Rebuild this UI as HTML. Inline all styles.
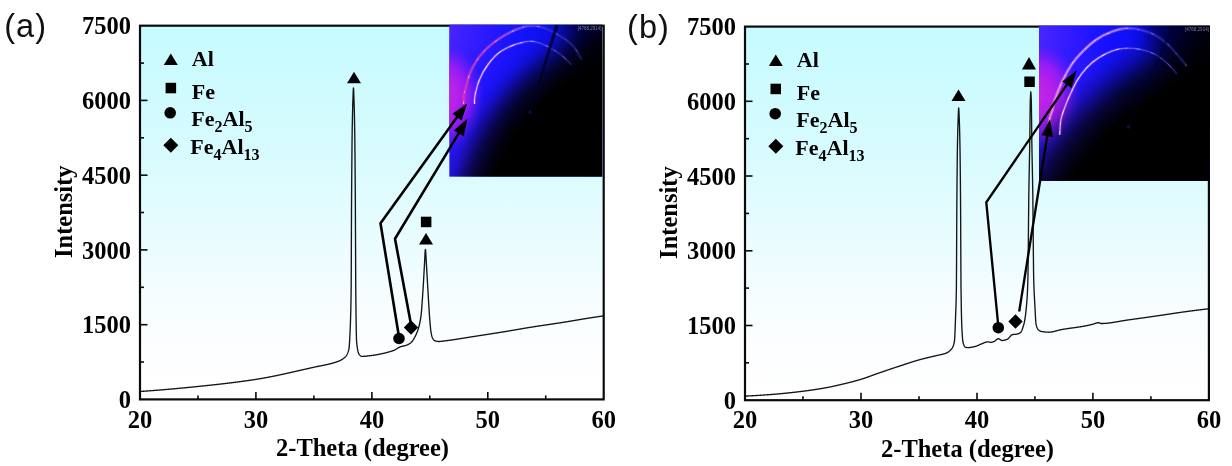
<!DOCTYPE html><html><head><meta charset="utf-8"><title>XRD patterns</title><style>html,body{margin:0;padding:0;background:#fff}svg{display:block}</style></head><body><svg width="1232" height="466" viewBox="0 0 1232 466"><defs><linearGradient id="bg" x1="0" y1="0" x2="0" y2="1"><stop offset="0" stop-color="#c6fbff"/><stop offset="0.35" stop-color="#d8fbfe"/><stop offset="0.72" stop-color="#f5fdff"/><stop offset="0.88" stop-color="#fdfeff"/><stop offset="1" stop-color="#ffffff"/></linearGradient><linearGradient id="arcga" gradientUnits="userSpaceOnUse" x1="449.2" y1="0" x2="602.5" y2="0"><stop offset="0" stop-color="#f03890"/><stop offset="0.3" stop-color="#d848d0"/><stop offset="0.42" stop-color="#b060ff"/><stop offset="0.52" stop-color="#6a5cff" stop-opacity="0.8"/><stop offset="0.66" stop-color="#4a40e0" stop-opacity="0.6"/><stop offset="1" stop-color="#3830b0" stop-opacity="0.4"/></linearGradient><linearGradient id="arcg2a" gradientUnits="userSpaceOnUse" x1="449.2" y1="0" x2="602.5" y2="0"><stop offset="0" stop-color="#ff90e0"/><stop offset="0.3" stop-color="#ffd0f8"/><stop offset="0.44" stop-color="#d0a0ff"/><stop offset="0.54" stop-color="#7468ff" stop-opacity="0.8"/><stop offset="0.68" stop-color="#4a40e0" stop-opacity="0.6"/><stop offset="1" stop-color="#3830b0" stop-opacity="0.4"/></linearGradient><linearGradient id="arcgb" gradientUnits="userSpaceOnUse" x1="1039.0" y1="0" x2="1209.9" y2="0"><stop offset="0" stop-color="#ff9ad8"/><stop offset="0.3" stop-color="#ffb4f0"/><stop offset="0.46" stop-color="#d8a0ff"/><stop offset="0.56" stop-color="#6a5cff" stop-opacity="0.8"/><stop offset="0.7" stop-color="#4a40e0" stop-opacity="0.6"/><stop offset="1" stop-color="#3830b0" stop-opacity="0.4"/></linearGradient><linearGradient id="arcg2b" gradientUnits="userSpaceOnUse" x1="1039.0" y1="0" x2="1209.9" y2="0"><stop offset="0" stop-color="#ff90e0"/><stop offset="0.3" stop-color="#ffd0f8"/><stop offset="0.44" stop-color="#d0a0ff"/><stop offset="0.54" stop-color="#7468ff" stop-opacity="0.8"/><stop offset="0.68" stop-color="#4a40e0" stop-opacity="0.6"/><stop offset="1" stop-color="#3830b0" stop-opacity="0.4"/></linearGradient></defs>
<rect x="140.0" y="25.7" width="463.7" height="373.7" fill="url(#bg)"/>
<path d="M140.00,391.50 L140.25,391.48 L140.50,391.47 L140.75,391.45 L141.00,391.43 L141.25,391.41 L141.50,391.40 L141.75,391.38 L142.00,391.36 L142.25,391.34 L142.50,391.33 L142.75,391.31 L143.00,391.29 L143.25,391.27 L143.50,391.25 L143.75,391.24 L144.00,391.22 L144.25,391.20 L144.50,391.18 L144.75,391.17 L145.00,391.15 L145.25,391.13 L145.50,391.11 L145.75,391.09 L146.00,391.07 L146.25,391.06 L146.50,391.04 L146.75,391.02 L147.00,391.00 L147.25,390.98 L147.50,390.96 L147.75,390.95 L148.00,390.93 L148.25,390.91 L148.50,390.89 L148.75,390.87 L149.00,390.85 L149.25,390.83 L149.50,390.81 L149.75,390.80 L150.00,390.78 L150.25,390.76 L150.50,390.74 L150.75,390.72 L151.00,390.70 L151.25,390.68 L151.50,390.66 L151.75,390.64 L152.00,390.62 L152.25,390.60 L152.50,390.59 L152.75,390.57 L153.00,390.55 L153.25,390.53 L153.50,390.51 L153.75,390.49 L154.00,390.47 L154.25,390.45 L154.50,390.43 L154.75,390.41 L155.00,390.39 L155.25,390.37 L155.50,390.35 L155.75,390.33 L156.00,390.31 L156.25,390.29 L156.50,390.27 L156.75,390.25 L157.00,390.23 L157.25,390.21 L157.50,390.19 L157.75,390.17 L158.00,390.15 L158.25,390.13 L158.50,390.11 L158.75,390.09 L159.00,390.07 L159.25,390.05 L159.50,390.03 L159.75,390.01 L160.00,389.99 L160.25,389.97 L160.50,389.95 L160.75,389.92 L161.00,389.90 L161.25,389.88 L161.50,389.86 L161.75,389.84 L162.00,389.82 L162.25,389.80 L162.50,389.78 L162.75,389.76 L163.00,389.74 L163.25,389.72 L163.50,389.69 L163.75,389.67 L164.00,389.65 L164.25,389.63 L164.50,389.61 L164.75,389.59 L165.00,389.57 L165.25,389.55 L165.50,389.53 L165.75,389.50 L166.00,389.48 L166.25,389.46 L166.50,389.44 L166.75,389.42 L167.00,389.40 L167.25,389.37 L167.50,389.35 L167.75,389.33 L168.00,389.31 L168.25,389.29 L168.50,389.27 L168.75,389.24 L169.00,389.22 L169.25,389.20 L169.50,389.18 L169.75,389.16 L170.00,389.13 L170.25,389.11 L170.50,389.09 L170.75,389.07 L171.00,389.05 L171.25,389.02 L171.50,389.00 L171.75,388.98 L172.00,388.96 L172.25,388.93 L172.50,388.91 L172.75,388.89 L173.00,388.87 L173.25,388.85 L173.50,388.82 L173.75,388.80 L174.00,388.78 L174.25,388.76 L174.50,388.73 L174.75,388.71 L175.00,388.69 L175.25,388.66 L175.50,388.64 L175.75,388.62 L176.00,388.60 L176.25,388.57 L176.50,388.55 L176.75,388.53 L177.00,388.50 L177.25,388.48 L177.50,388.46 L177.75,388.44 L178.00,388.41 L178.25,388.39 L178.50,388.37 L178.75,388.34 L179.00,388.32 L179.25,388.30 L179.50,388.27 L179.75,388.25 L180.00,388.23 L180.25,388.20 L180.50,388.18 L180.75,388.16 L181.00,388.13 L181.25,388.11 L181.50,388.09 L181.75,388.06 L182.00,388.04 L182.25,388.02 L182.50,387.99 L182.75,387.97 L183.00,387.94 L183.25,387.92 L183.50,387.90 L183.75,387.87 L184.00,387.85 L184.25,387.83 L184.50,387.80 L184.75,387.78 L185.00,387.75 L185.25,387.73 L185.50,387.71 L185.75,387.68 L186.00,387.66 L186.25,387.63 L186.50,387.61 L186.75,387.59 L187.00,387.56 L187.25,387.54 L187.50,387.51 L187.75,387.49 L188.00,387.46 L188.25,387.44 L188.50,387.42 L188.75,387.39 L189.00,387.37 L189.25,387.34 L189.50,387.32 L189.75,387.29 L190.00,387.27 L190.25,387.24 L190.50,387.22 L190.75,387.19 L191.00,387.17 L191.25,387.15 L191.50,387.12 L191.75,387.10 L192.00,387.07 L192.25,387.05 L192.50,387.02 L192.75,387.00 L193.00,386.97 L193.25,386.95 L193.50,386.92 L193.75,386.90 L194.00,386.87 L194.25,386.85 L194.50,386.82 L194.75,386.80 L195.00,386.77 L195.25,386.75 L195.50,386.72 L195.75,386.70 L196.00,386.67 L196.25,386.65 L196.50,386.62 L196.75,386.60 L197.00,386.57 L197.25,386.55 L197.50,386.52 L197.70,386.50 L197.75,386.49 L198.00,386.47 L198.25,386.44 L198.50,386.42 L198.75,386.39 L199.00,386.37 L199.25,386.34 L199.50,386.32 L199.75,386.29 L200.00,386.27 L200.25,386.24 L200.50,386.21 L200.75,386.19 L201.00,386.16 L201.25,386.14 L201.50,386.11 L201.75,386.09 L202.00,386.06 L202.25,386.03 L202.50,386.01 L202.75,385.98 L203.00,385.96 L203.25,385.93 L203.50,385.91 L203.75,385.88 L204.00,385.85 L204.25,385.83 L204.50,385.80 L204.75,385.78 L205.00,385.75 L205.25,385.72 L205.50,385.70 L205.75,385.67 L206.00,385.64 L206.25,385.62 L206.50,385.59 L206.75,385.57 L207.00,385.54 L207.25,385.51 L207.50,385.49 L207.75,385.46 L208.00,385.43 L208.25,385.41 L208.50,385.38 L208.75,385.35 L209.00,385.33 L209.25,385.30 L209.50,385.27 L209.75,385.25 L210.00,385.22 L210.25,385.19 L210.50,385.17 L210.75,385.14 L211.00,385.11 L211.25,385.09 L211.50,385.06 L211.75,385.03 L212.00,385.00 L212.25,384.98 L212.50,384.95 L212.75,384.92 L213.00,384.90 L213.25,384.87 L213.50,384.84 L213.75,384.81 L214.00,384.79 L214.25,384.76 L214.50,384.73 L214.75,384.70 L215.00,384.68 L215.25,384.65 L215.50,384.62 L215.75,384.59 L216.00,384.57 L216.25,384.54 L216.50,384.51 L216.75,384.48 L217.00,384.45 L217.25,384.43 L217.50,384.40 L217.75,384.37 L218.00,384.34 L218.25,384.31 L218.50,384.29 L218.75,384.26 L219.00,384.23 L219.25,384.20 L219.50,384.17 L219.75,384.14 L220.00,384.12 L220.25,384.09 L220.50,384.06 L220.75,384.03 L221.00,384.00 L221.25,383.97 L221.50,383.94 L221.75,383.92 L222.00,383.89 L222.25,383.86 L222.50,383.83 L222.75,383.80 L223.00,383.77 L223.25,383.74 L223.50,383.71 L223.75,383.68 L224.00,383.65 L224.25,383.62 L224.50,383.59 L224.75,383.57 L225.00,383.54 L225.25,383.51 L225.50,383.48 L225.75,383.45 L226.00,383.42 L226.25,383.39 L226.50,383.36 L226.75,383.33 L227.00,383.30 L227.25,383.27 L227.50,383.24 L227.75,383.21 L228.00,383.18 L228.25,383.15 L228.50,383.12 L228.75,383.09 L229.00,383.06 L229.25,383.03 L229.50,383.00 L229.75,382.96 L230.00,382.93 L230.25,382.90 L230.50,382.87 L230.75,382.84 L231.00,382.81 L231.25,382.78 L231.50,382.75 L231.75,382.72 L232.00,382.69 L232.25,382.66 L232.50,382.62 L232.75,382.59 L233.00,382.56 L233.25,382.53 L233.50,382.50 L233.75,382.47 L234.00,382.43 L234.25,382.40 L234.50,382.37 L234.75,382.34 L235.00,382.31 L235.25,382.28 L235.50,382.24 L235.75,382.21 L236.00,382.18 L236.25,382.15 L236.50,382.11 L236.75,382.08 L237.00,382.05 L237.25,382.02 L237.50,381.98 L237.75,381.95 L238.00,381.92 L238.25,381.89 L238.50,381.85 L238.75,381.82 L239.00,381.79 L239.25,381.75 L239.50,381.72 L239.75,381.69 L240.00,381.65 L240.25,381.62 L240.50,381.59 L240.75,381.55 L241.00,381.52 L241.25,381.49 L241.50,381.45 L241.75,381.42 L242.00,381.38 L242.25,381.35 L242.50,381.32 L242.75,381.28 L243.00,381.25 L243.25,381.21 L243.50,381.18 L243.75,381.14 L244.00,381.11 L244.25,381.08 L244.50,381.04 L244.75,381.01 L245.00,380.97 L245.25,380.94 L245.50,380.90 L245.75,380.87 L246.00,380.83 L246.25,380.80 L246.50,380.76 L246.75,380.72 L247.00,380.69 L247.25,380.65 L247.50,380.62 L247.75,380.58 L248.00,380.55 L248.25,380.51 L248.50,380.47 L248.75,380.44 L249.00,380.40 L249.25,380.37 L249.50,380.33 L249.75,380.29 L250.00,380.26 L250.25,380.22 L250.50,380.18 L250.75,380.15 L251.00,380.11 L251.25,380.07 L251.50,380.04 L251.75,380.00 L252.00,379.96 L252.25,379.92 L252.50,379.89 L252.75,379.85 L253.00,379.81 L253.25,379.77 L253.50,379.74 L253.75,379.70 L254.00,379.66 L254.25,379.62 L254.50,379.58 L254.75,379.55 L255.00,379.51 L255.25,379.47 L255.50,379.43 L255.70,379.40 L255.75,379.39 L256.00,379.35 L256.25,379.31 L256.50,379.28 L256.75,379.24 L257.00,379.20 L257.25,379.16 L257.50,379.12 L257.75,379.08 L258.00,379.04 L258.25,379.00 L258.50,378.95 L258.75,378.91 L259.00,378.87 L259.25,378.83 L259.50,378.79 L259.75,378.75 L260.00,378.71 L260.25,378.66 L260.50,378.62 L260.75,378.58 L261.00,378.54 L261.25,378.49 L261.50,378.45 L261.75,378.41 L262.00,378.36 L262.25,378.32 L262.50,378.28 L262.75,378.23 L263.00,378.19 L263.25,378.14 L263.50,378.10 L263.75,378.06 L264.00,378.01 L264.25,377.97 L264.50,377.92 L264.75,377.88 L265.00,377.83 L265.25,377.78 L265.50,377.74 L265.75,377.69 L266.00,377.65 L266.25,377.60 L266.50,377.55 L266.75,377.51 L267.00,377.46 L267.25,377.41 L267.50,377.37 L267.75,377.32 L268.00,377.27 L268.25,377.22 L268.50,377.18 L268.75,377.13 L269.00,377.08 L269.25,377.03 L269.50,376.98 L269.75,376.94 L270.00,376.89 L270.25,376.84 L270.50,376.79 L270.75,376.74 L271.00,376.69 L271.25,376.64 L271.50,376.59 L271.75,376.54 L272.00,376.49 L272.25,376.44 L272.50,376.40 L272.75,376.35 L273.00,376.29 L273.25,376.24 L273.50,376.19 L273.75,376.14 L274.00,376.09 L274.25,376.04 L274.50,375.99 L274.75,375.94 L275.00,375.89 L275.25,375.84 L275.50,375.79 L275.75,375.74 L276.00,375.68 L276.25,375.63 L276.50,375.58 L276.75,375.53 L277.00,375.48 L277.25,375.42 L277.50,375.37 L277.75,375.32 L278.00,375.27 L278.25,375.21 L278.50,375.16 L278.75,375.11 L279.00,375.06 L279.25,375.00 L279.50,374.95 L279.75,374.90 L280.00,374.84 L280.25,374.79 L280.50,374.74 L280.75,374.68 L281.00,374.63 L281.25,374.58 L281.50,374.52 L281.75,374.47 L282.00,374.41 L282.25,374.36 L282.50,374.31 L282.75,374.25 L283.00,374.20 L283.25,374.14 L283.50,374.09 L283.75,374.03 L284.00,373.98 L284.25,373.92 L284.50,373.87 L284.75,373.81 L285.00,373.76 L285.25,373.70 L285.50,373.65 L285.75,373.59 L286.00,373.54 L286.25,373.48 L286.50,373.43 L286.75,373.37 L287.00,373.32 L287.25,373.26 L287.50,373.21 L287.75,373.15 L288.00,373.10 L288.25,373.04 L288.50,372.98 L288.75,372.93 L289.00,372.87 L289.25,372.82 L289.50,372.76 L289.75,372.70 L290.00,372.65 L290.25,372.59 L290.50,372.54 L290.75,372.48 L291.00,372.42 L291.25,372.37 L291.50,372.31 L291.75,372.25 L292.00,372.20 L292.25,372.14 L292.50,372.08 L292.75,372.03 L293.00,371.97 L293.25,371.91 L293.50,371.86 L293.75,371.80 L294.00,371.74 L294.25,371.69 L294.50,371.63 L294.75,371.57 L295.00,371.52 L295.25,371.46 L295.50,371.40 L295.75,371.35 L296.00,371.29 L296.25,371.23 L296.50,371.18 L296.75,371.12 L297.00,371.06 L297.25,371.00 L297.50,370.95 L297.75,370.89 L298.00,370.83 L298.25,370.78 L298.50,370.72 L298.75,370.66 L299.00,370.60 L299.25,370.55 L299.50,370.49 L299.75,370.43 L300.00,370.38 L300.25,370.32 L300.50,370.26 L300.75,370.21 L301.00,370.15 L301.25,370.09 L301.50,370.03 L301.75,369.98 L302.00,369.92 L302.25,369.86 L302.50,369.81 L302.75,369.75 L303.00,369.69 L303.25,369.63 L303.50,369.58 L303.75,369.52 L304.00,369.46 L304.25,369.41 L304.50,369.35 L304.75,369.29 L305.00,369.24 L305.25,369.18 L305.50,369.12 L305.75,369.07 L306.00,369.01 L306.25,368.95 L306.50,368.89 L306.75,368.84 L307.00,368.78 L307.25,368.72 L307.50,368.67 L307.75,368.61 L308.00,368.55 L308.25,368.50 L308.50,368.44 L308.75,368.39 L309.00,368.33 L309.25,368.27 L309.50,368.22 L309.75,368.16 L310.00,368.10 L310.25,368.05 L310.50,367.99 L310.75,367.94 L311.00,367.88 L311.25,367.82 L311.50,367.77 L311.75,367.71 L312.00,367.66 L312.25,367.60 L312.50,367.54 L312.75,367.49 L313.00,367.43 L313.25,367.38 L313.50,367.32 L313.60,367.30 L313.75,367.27 L314.00,367.21 L314.25,367.16 L314.50,367.10 L314.75,367.05 L315.00,367.00 L315.25,366.94 L315.50,366.89 L315.75,366.84 L316.00,366.79 L316.25,366.74 L316.50,366.68 L316.75,366.63 L317.00,366.58 L317.25,366.53 L317.50,366.48 L317.75,366.43 L318.00,366.38 L318.25,366.33 L318.50,366.28 L318.75,366.23 L319.00,366.18 L319.25,366.13 L319.50,366.08 L319.75,366.03 L320.00,365.99 L320.25,365.94 L320.50,365.89 L320.75,365.84 L321.00,365.79 L321.25,365.74 L321.50,365.69 L321.75,365.64 L322.00,365.59 L322.25,365.54 L322.50,365.49 L322.75,365.44 L323.00,365.39 L323.25,365.34 L323.50,365.29 L323.75,365.24 L324.00,365.19 L324.25,365.14 L324.50,365.09 L324.75,365.03 L325.00,364.98 L325.25,364.93 L325.50,364.88 L325.75,364.82 L326.00,364.77 L326.25,364.71 L326.50,364.66 L326.75,364.60 L327.00,364.55 L327.25,364.49 L327.50,364.44 L327.75,364.38 L328.00,364.32 L328.25,364.26 L328.50,364.21 L328.75,364.15 L329.00,364.09 L329.25,364.03 L329.50,363.97 L329.75,363.90 L330.00,363.84 L330.25,363.78 L330.50,363.72 L330.75,363.65 L331.00,363.59 L331.25,363.52 L331.50,363.45 L331.75,363.39 L332.00,363.32 L332.25,363.25 L332.50,363.18 L332.75,363.11 L333.00,363.04 L333.25,362.96 L333.50,362.89 L333.75,362.82 L334.00,362.74 L334.25,362.66 L334.50,362.59 L334.75,362.51 L335.00,362.43 L335.25,362.35 L335.50,362.27 L335.75,362.18 L336.00,362.10 L336.25,362.02 L336.50,361.93 L336.75,361.85 L337.00,361.76 L337.25,361.67 L337.50,361.58 L337.75,361.49 L338.00,361.40 L338.25,361.30 L338.50,361.21 L338.75,361.11 L339.00,361.01 L339.25,360.90 L339.50,360.79 L339.75,360.68 L340.00,360.57 L340.25,360.45 L340.50,360.32 L340.75,360.19 L341.00,360.06 L341.25,359.93 L341.50,359.78 L341.75,359.64 L342.00,359.48 L342.25,359.32 L342.50,359.16 L342.75,358.99 L343.00,358.81 L343.25,358.63 L343.50,358.44 L343.75,358.24 L343.80,358.20 L344.00,358.04 L344.25,357.84 L344.50,357.63 L344.75,357.41 L345.00,357.19 L345.25,356.94 L345.50,356.68 L345.75,356.39 L346.00,356.08 L346.25,355.74 L346.50,355.36 L346.75,354.94 L347.00,354.48 L347.25,353.97 L347.50,353.42 L347.75,352.81 L348.00,352.14 L348.25,351.41 L348.50,350.62 L348.75,349.75 L348.90,349.20 L349.00,348.70 L349.25,346.43 L349.50,342.92 L349.75,338.41 L350.00,333.16 L350.20,328.60 L350.25,327.43 L350.50,321.08 L350.75,312.55 L351.00,299.99 L351.15,289.75 L351.25,274.41 L351.50,210.12 L351.55,200.98 L351.75,173.26 L352.00,145.75 L352.20,130.23 L352.25,127.22 L352.50,114.41 L352.75,104.76 L352.90,100.11 L353.00,97.13 L353.25,90.31 L353.45,88.00 L353.50,88.16 L353.75,92.74 L354.00,100.11 L354.25,108.30 L354.50,119.11 L354.70,130.23 L354.75,133.53 L355.00,155.73 L355.25,186.53 L355.35,200.98 L355.50,234.26 L355.75,289.75 L356.00,312.77 L356.25,329.80 L356.50,339.75 L356.60,341.50 L356.75,343.04 L357.00,345.32 L357.25,347.27 L357.50,348.92 L357.75,350.29 L358.00,351.42 L358.25,352.34 L358.50,353.08 L358.75,353.65 L359.00,354.11 L359.20,354.40 L359.25,354.47 L359.50,354.79 L359.75,355.09 L360.00,355.36 L360.25,355.61 L360.50,355.83 L360.75,356.02 L361.00,356.18 L361.25,356.29 L361.50,356.37 L361.75,356.40 L361.80,356.40 L362.00,356.40 L362.25,356.40 L362.50,356.39 L362.75,356.39 L363.00,356.38 L363.25,356.37 L363.50,356.35 L363.75,356.34 L364.00,356.33 L364.25,356.31 L364.50,356.29 L364.75,356.27 L365.00,356.25 L365.25,356.23 L365.50,356.21 L365.75,356.18 L366.00,356.16 L366.25,356.13 L366.50,356.11 L366.75,356.08 L367.00,356.05 L367.25,356.02 L367.50,355.99 L367.75,355.97 L368.00,355.94 L368.25,355.91 L368.50,355.88 L368.75,355.85 L369.00,355.82 L369.25,355.79 L369.50,355.76 L369.75,355.73 L370.00,355.70 L370.25,355.67 L370.50,355.64 L370.75,355.61 L371.00,355.58 L371.25,355.55 L371.50,355.52 L371.75,355.49 L372.00,355.45 L372.25,355.42 L372.50,355.39 L372.75,355.35 L373.00,355.32 L373.25,355.28 L373.50,355.25 L373.75,355.21 L374.00,355.17 L374.25,355.13 L374.50,355.10 L374.75,355.06 L375.00,355.02 L375.25,354.98 L375.50,354.94 L375.75,354.90 L376.00,354.86 L376.25,354.81 L376.50,354.77 L376.75,354.73 L377.00,354.68 L377.25,354.64 L377.50,354.59 L377.75,354.55 L378.00,354.50 L378.25,354.46 L378.50,354.41 L378.75,354.36 L379.00,354.31 L379.25,354.26 L379.50,354.22 L379.75,354.17 L380.00,354.11 L380.25,354.06 L380.50,354.01 L380.75,353.96 L381.00,353.91 L381.25,353.85 L381.50,353.80 L381.75,353.74 L382.00,353.69 L382.25,353.63 L382.50,353.58 L382.75,353.52 L383.00,353.46 L383.25,353.41 L383.50,353.35 L383.75,353.29 L384.00,353.23 L384.25,353.17 L384.50,353.11 L384.75,353.04 L385.00,352.98 L385.25,352.92 L385.50,352.86 L385.75,352.79 L386.00,352.73 L386.25,352.66 L386.50,352.60 L386.75,352.53 L387.00,352.46 L387.25,352.39 L387.50,352.33 L387.75,352.26 L388.00,352.19 L388.25,352.12 L388.50,352.05 L388.75,351.97 L389.00,351.90 L389.25,351.83 L389.50,351.76 L389.75,351.68 L390.00,351.61 L390.25,351.53 L390.50,351.46 L390.75,351.38 L391.00,351.30 L391.25,351.23 L391.50,351.15 L391.75,351.07 L392.00,350.99 L392.25,350.91 L392.50,350.83 L392.75,350.75 L393.00,350.67 L393.20,350.60 L393.25,350.58 L393.50,350.49 L393.75,350.40 L394.00,350.29 L394.25,350.18 L394.50,350.05 L394.75,349.93 L395.00,349.79 L395.25,349.66 L395.50,349.51 L395.75,349.37 L396.00,349.22 L396.25,349.07 L396.50,348.92 L396.75,348.76 L397.00,348.61 L397.25,348.45 L397.50,348.30 L397.75,348.14 L398.00,347.99 L398.25,347.85 L398.50,347.70 L398.75,347.56 L399.00,347.42 L399.25,347.29 L399.50,347.17 L399.75,347.05 L400.00,346.93 L400.25,346.83 L400.50,346.73 L400.75,346.65 L400.90,346.60 L401.00,346.57 L401.25,346.50 L401.50,346.43 L401.75,346.37 L402.00,346.32 L402.25,346.27 L402.50,346.22 L402.75,346.17 L403.00,346.12 L403.25,346.07 L403.50,346.03 L403.75,345.98 L404.00,345.93 L404.25,345.87 L404.50,345.82 L404.75,345.75 L405.00,345.69 L405.25,345.62 L405.30,345.60 L405.50,345.54 L405.75,345.46 L406.00,345.37 L406.25,345.28 L406.50,345.19 L406.75,345.09 L407.00,344.99 L407.25,344.88 L407.50,344.77 L407.75,344.66 L408.00,344.54 L408.25,344.41 L408.50,344.28 L408.75,344.14 L409.00,344.00 L409.25,343.85 L409.50,343.69 L409.75,343.53 L410.00,343.36 L410.25,343.18 L410.50,343.00 L410.75,342.80 L411.00,342.59 L411.25,342.35 L411.50,342.10 L411.75,341.83 L412.00,341.55 L412.25,341.24 L412.50,340.92 L412.75,340.58 L413.00,340.23 L413.25,339.85 L413.50,339.47 L413.75,339.06 L414.00,338.64 L414.25,338.21 L414.50,337.76 L414.75,337.29 L415.00,336.81 L415.25,336.32 L415.50,335.81 L415.75,335.28 L416.00,334.75 L416.25,334.19 L416.50,333.63 L416.75,333.05 L416.90,332.70 L417.00,332.46 L417.25,331.84 L417.50,331.19 L417.75,330.51 L418.00,329.78 L418.25,329.00 L418.50,328.17 L418.75,327.29 L419.00,326.34 L419.25,325.33 L419.50,324.25 L419.75,323.09 L420.00,321.85 L420.25,320.53 L420.50,319.12 L420.75,317.61 L420.80,317.30 L421.00,315.86 L421.25,313.60 L421.50,310.90 L421.75,307.84 L422.00,304.51 L422.25,300.99 L422.50,297.35 L422.75,293.68 L422.90,291.50 L423.00,290.02 L423.25,286.03 L423.50,281.74 L423.75,277.27 L424.00,272.77 L424.25,268.35 L424.40,265.80 L424.50,263.99 L424.75,258.74 L425.00,253.64 L425.25,250.17 L425.40,249.50 L425.50,249.75 L425.75,252.20 L426.00,256.40 L426.25,261.29 L426.50,265.80 L426.75,269.88 L427.00,274.13 L427.25,278.50 L427.50,282.90 L427.75,287.26 L428.00,291.50 L428.25,295.74 L428.50,300.07 L428.75,304.37 L429.00,308.54 L429.25,312.46 L429.50,316.01 L429.60,317.30 L429.75,319.18 L430.00,322.27 L430.25,325.22 L430.50,327.91 L430.75,330.25 L431.00,332.11 L431.10,332.70 L431.25,333.49 L431.50,334.68 L431.75,335.74 L432.00,336.64 L432.25,337.40 L432.50,338.00 L432.60,338.20 L432.75,338.47 L433.00,338.90 L433.25,339.29 L433.50,339.64 L433.75,339.94 L434.00,340.20 L434.25,340.40 L434.50,340.56 L434.60,340.60 L434.75,340.66 L435.00,340.75 L435.25,340.84 L435.50,340.93 L435.75,341.01 L436.00,341.08 L436.25,341.15 L436.50,341.21 L436.75,341.27 L437.00,341.32 L437.25,341.37 L437.50,341.40 L437.75,341.44 L438.00,341.46 L438.25,341.48 L438.50,341.49 L438.75,341.50 L438.80,341.50 L439.00,341.50 L439.25,341.49 L439.50,341.48 L439.75,341.47 L440.00,341.46 L440.25,341.44 L440.50,341.42 L440.75,341.39 L441.00,341.37 L441.25,341.34 L441.50,341.31 L441.75,341.28 L442.00,341.25 L442.25,341.21 L442.50,341.18 L442.75,341.15 L443.00,341.11 L443.25,341.08 L443.50,341.04 L443.75,341.01 L444.00,340.97 L444.25,340.94 L444.50,340.91 L444.60,340.90 L444.75,340.88 L445.00,340.85 L445.25,340.82 L445.50,340.79 L445.75,340.76 L446.00,340.73 L446.25,340.70 L446.50,340.67 L446.75,340.64 L447.00,340.61 L447.25,340.57 L447.50,340.54 L447.75,340.51 L448.00,340.48 L448.25,340.44 L448.50,340.41 L448.75,340.38 L449.00,340.34 L449.25,340.31 L449.50,340.28 L449.75,340.24 L450.00,340.21 L450.25,340.17 L450.50,340.14 L450.75,340.10 L451.00,340.07 L451.25,340.03 L451.50,340.00 L451.75,339.96 L452.00,339.92 L452.25,339.89 L452.50,339.85 L452.75,339.82 L453.00,339.78 L453.25,339.74 L453.50,339.71 L453.75,339.67 L454.00,339.63 L454.25,339.59 L454.50,339.56 L454.75,339.52 L455.00,339.48 L455.25,339.44 L455.50,339.41 L455.75,339.37 L456.00,339.33 L456.25,339.29 L456.50,339.25 L456.75,339.21 L457.00,339.18 L457.25,339.14 L457.50,339.10 L457.75,339.06 L458.00,339.02 L458.25,338.98 L458.50,338.94 L458.75,338.90 L459.00,338.86 L459.25,338.82 L459.50,338.78 L459.75,338.74 L460.00,338.70 L460.25,338.66 L460.50,338.62 L460.75,338.58 L461.00,338.54 L461.25,338.50 L461.50,338.46 L461.75,338.42 L462.00,338.38 L462.25,338.34 L462.50,338.30 L462.75,338.26 L463.00,338.22 L463.25,338.18 L463.50,338.14 L463.75,338.10 L464.00,338.06 L464.25,338.02 L464.50,337.98 L464.75,337.94 L465.00,337.90 L465.25,337.86 L465.50,337.82 L465.75,337.78 L466.00,337.74 L466.25,337.70 L466.50,337.66 L466.75,337.62 L467.00,337.58 L467.25,337.54 L467.50,337.50 L467.75,337.46 L468.00,337.42 L468.25,337.38 L468.50,337.34 L468.75,337.30 L469.00,337.26 L469.25,337.22 L469.50,337.18 L469.75,337.14 L470.00,337.10 L470.25,337.06 L470.50,337.02 L470.75,336.98 L471.00,336.94 L471.25,336.90 L471.50,336.86 L471.75,336.82 L472.00,336.78 L472.25,336.74 L472.50,336.70 L472.75,336.66 L473.00,336.62 L473.25,336.58 L473.50,336.55 L473.75,336.51 L473.80,336.50 L474.00,336.47 L474.25,336.43 L474.50,336.39 L474.75,336.35 L475.00,336.32 L475.25,336.28 L475.50,336.24 L475.75,336.20 L476.00,336.16 L476.25,336.12 L476.50,336.08 L476.75,336.05 L477.00,336.01 L477.25,335.97 L477.50,335.93 L477.75,335.89 L478.00,335.85 L478.25,335.81 L478.50,335.78 L478.75,335.74 L479.00,335.70 L479.25,335.66 L479.50,335.62 L479.75,335.58 L480.00,335.54 L480.25,335.51 L480.50,335.47 L480.75,335.43 L481.00,335.39 L481.25,335.35 L481.50,335.31 L481.75,335.27 L482.00,335.23 L482.25,335.20 L482.50,335.16 L482.75,335.12 L483.00,335.08 L483.25,335.04 L483.50,335.00 L483.75,334.96 L484.00,334.92 L484.25,334.89 L484.50,334.85 L484.75,334.81 L485.00,334.77 L485.25,334.73 L485.50,334.69 L485.75,334.65 L486.00,334.61 L486.25,334.57 L486.50,334.54 L486.75,334.50 L487.00,334.46 L487.25,334.42 L487.50,334.38 L487.75,334.34 L488.00,334.30 L488.25,334.26 L488.50,334.22 L488.75,334.18 L489.00,334.14 L489.25,334.11 L489.50,334.07 L489.75,334.03 L490.00,333.99 L490.25,333.95 L490.50,333.91 L490.75,333.87 L491.00,333.83 L491.25,333.79 L491.50,333.75 L491.75,333.71 L492.00,333.67 L492.25,333.63 L492.50,333.59 L492.75,333.56 L493.00,333.52 L493.25,333.48 L493.50,333.44 L493.75,333.40 L494.00,333.36 L494.25,333.32 L494.50,333.28 L494.75,333.24 L495.00,333.20 L495.25,333.16 L495.50,333.12 L495.75,333.08 L496.00,333.04 L496.25,333.00 L496.50,332.96 L496.75,332.92 L497.00,332.88 L497.25,332.84 L497.50,332.80 L497.75,332.76 L498.00,332.72 L498.25,332.68 L498.50,332.64 L498.75,332.60 L499.00,332.56 L499.25,332.52 L499.50,332.48 L499.75,332.44 L500.00,332.40 L500.25,332.36 L500.50,332.32 L500.75,332.28 L501.00,332.24 L501.25,332.20 L501.50,332.16 L501.75,332.12 L502.00,332.08 L502.25,332.04 L502.50,332.00 L502.75,331.96 L503.00,331.92 L503.10,331.90 L503.25,331.88 L503.50,331.84 L503.75,331.79 L504.00,331.75 L504.25,331.71 L504.50,331.67 L504.75,331.63 L505.00,331.59 L505.25,331.55 L505.50,331.51 L505.75,331.47 L506.00,331.42 L506.25,331.38 L506.50,331.34 L506.75,331.30 L507.00,331.26 L507.25,331.22 L507.50,331.17 L507.75,331.13 L508.00,331.09 L508.25,331.05 L508.50,331.01 L508.75,330.96 L509.00,330.92 L509.25,330.88 L509.50,330.84 L509.75,330.80 L510.00,330.75 L510.25,330.71 L510.50,330.67 L510.75,330.63 L511.00,330.58 L511.25,330.54 L511.50,330.50 L511.75,330.46 L512.00,330.41 L512.25,330.37 L512.50,330.33 L512.75,330.29 L513.00,330.24 L513.25,330.20 L513.50,330.16 L513.75,330.11 L514.00,330.07 L514.25,330.03 L514.50,329.99 L514.75,329.94 L515.00,329.90 L515.25,329.86 L515.50,329.81 L515.75,329.77 L516.00,329.73 L516.25,329.69 L516.50,329.64 L516.75,329.60 L517.00,329.56 L517.25,329.51 L517.50,329.47 L517.75,329.43 L518.00,329.39 L518.25,329.34 L518.50,329.30 L518.75,329.26 L519.00,329.21 L519.25,329.17 L519.50,329.13 L519.75,329.09 L520.00,329.04 L520.25,329.00 L520.50,328.96 L520.75,328.92 L521.00,328.87 L521.25,328.83 L521.50,328.79 L521.75,328.75 L522.00,328.70 L522.25,328.66 L522.50,328.62 L522.75,328.58 L523.00,328.53 L523.25,328.49 L523.50,328.45 L523.75,328.41 L524.00,328.36 L524.25,328.32 L524.50,328.28 L524.75,328.24 L525.00,328.20 L525.25,328.15 L525.50,328.11 L525.75,328.07 L526.00,328.03 L526.25,327.99 L526.50,327.94 L526.75,327.90 L527.00,327.86 L527.25,327.82 L527.50,327.78 L527.75,327.74 L528.00,327.70 L528.25,327.66 L528.50,327.61 L528.75,327.57 L529.00,327.53 L529.25,327.49 L529.50,327.45 L529.75,327.41 L530.00,327.37 L530.25,327.33 L530.50,327.29 L530.75,327.25 L531.00,327.21 L531.25,327.17 L531.50,327.13 L531.75,327.09 L532.00,327.05 L532.25,327.01 L532.30,327.00 L532.50,326.97 L532.75,326.93 L533.00,326.89 L533.25,326.85 L533.50,326.81 L533.75,326.77 L534.00,326.73 L534.25,326.69 L534.50,326.65 L534.75,326.62 L535.00,326.58 L535.25,326.54 L535.50,326.50 L535.75,326.46 L536.00,326.42 L536.25,326.38 L536.50,326.35 L536.75,326.31 L537.00,326.27 L537.25,326.23 L537.50,326.19 L537.75,326.15 L538.00,326.12 L538.25,326.08 L538.50,326.04 L538.75,326.00 L539.00,325.97 L539.25,325.93 L539.50,325.89 L539.75,325.85 L540.00,325.82 L540.25,325.78 L540.50,325.74 L540.75,325.70 L541.00,325.67 L541.25,325.63 L541.50,325.59 L541.75,325.55 L542.00,325.52 L542.25,325.48 L542.50,325.44 L542.75,325.41 L543.00,325.37 L543.25,325.33 L543.50,325.30 L543.75,325.26 L544.00,325.22 L544.25,325.18 L544.50,325.15 L544.75,325.11 L545.00,325.07 L545.25,325.04 L545.50,325.00 L545.75,324.96 L546.00,324.93 L546.25,324.89 L546.50,324.85 L546.75,324.82 L547.00,324.78 L547.25,324.74 L547.50,324.71 L547.75,324.67 L548.00,324.63 L548.25,324.60 L548.50,324.56 L548.75,324.52 L549.00,324.49 L549.25,324.45 L549.50,324.41 L549.75,324.38 L550.00,324.34 L550.25,324.30 L550.50,324.26 L550.75,324.23 L551.00,324.19 L551.25,324.15 L551.50,324.12 L551.75,324.08 L552.00,324.04 L552.25,324.01 L552.50,323.97 L552.75,323.93 L553.00,323.89 L553.25,323.86 L553.50,323.82 L553.75,323.78 L554.00,323.75 L554.25,323.71 L554.50,323.67 L554.75,323.63 L555.00,323.60 L555.25,323.56 L555.50,323.52 L555.75,323.48 L556.00,323.45 L556.25,323.41 L556.50,323.37 L556.75,323.33 L557.00,323.29 L557.25,323.26 L557.50,323.22 L557.75,323.18 L558.00,323.14 L558.25,323.10 L558.50,323.07 L558.75,323.03 L559.00,322.99 L559.25,322.95 L559.50,322.91 L559.75,322.87 L560.00,322.83 L560.25,322.80 L560.50,322.76 L560.75,322.72 L561.00,322.68 L561.25,322.64 L561.50,322.60 L561.75,322.56 L562.00,322.52 L562.25,322.48 L562.50,322.44 L562.75,322.40 L563.00,322.36 L563.25,322.32 L563.50,322.28 L563.75,322.24 L564.00,322.20 L564.25,322.16 L564.50,322.12 L564.75,322.08 L565.00,322.04 L565.25,322.00 L565.50,321.96 L565.75,321.92 L566.00,321.88 L566.25,321.84 L566.50,321.80 L566.75,321.76 L567.00,321.71 L567.25,321.67 L567.50,321.63 L567.75,321.59 L568.00,321.55 L568.25,321.51 L568.50,321.47 L568.75,321.43 L569.00,321.38 L569.25,321.34 L569.50,321.30 L569.75,321.26 L570.00,321.22 L570.25,321.18 L570.50,321.13 L570.75,321.09 L571.00,321.05 L571.25,321.01 L571.50,320.97 L571.75,320.93 L572.00,320.88 L572.25,320.84 L572.50,320.80 L572.75,320.76 L573.00,320.72 L573.25,320.67 L573.50,320.63 L573.75,320.59 L574.00,320.55 L574.25,320.51 L574.50,320.46 L574.75,320.42 L575.00,320.38 L575.25,320.34 L575.50,320.30 L575.75,320.25 L576.00,320.21 L576.25,320.17 L576.50,320.13 L576.75,320.08 L577.00,320.04 L577.25,320.00 L577.50,319.96 L577.75,319.92 L578.00,319.87 L578.25,319.83 L578.50,319.79 L578.75,319.75 L579.00,319.71 L579.25,319.66 L579.50,319.62 L579.75,319.58 L580.00,319.54 L580.25,319.50 L580.50,319.46 L580.75,319.41 L581.00,319.37 L581.25,319.33 L581.50,319.29 L581.75,319.25 L582.00,319.21 L582.25,319.16 L582.50,319.12 L582.75,319.08 L583.00,319.04 L583.25,319.00 L583.50,318.96 L583.75,318.92 L584.00,318.88 L584.25,318.83 L584.50,318.79 L584.75,318.75 L585.00,318.71 L585.25,318.67 L585.50,318.63 L585.75,318.59 L586.00,318.55 L586.25,318.51 L586.50,318.47 L586.75,318.43 L587.00,318.39 L587.25,318.35 L587.50,318.31 L587.75,318.27 L588.00,318.23 L588.25,318.19 L588.50,318.15 L588.75,318.11 L589.00,318.07 L589.25,318.03 L589.50,317.99 L589.75,317.95 L590.00,317.91 L590.25,317.87 L590.50,317.83 L590.70,317.80 L590.75,317.79 L591.00,317.75 L591.25,317.71 L591.50,317.68 L591.75,317.64 L592.00,317.60 L592.25,317.56 L592.50,317.52 L592.75,317.48 L593.00,317.45 L593.25,317.41 L593.50,317.37 L593.75,317.33 L594.00,317.29 L594.25,317.25 L594.50,317.22 L594.75,317.18 L595.00,317.14 L595.25,317.10 L595.50,317.07 L595.75,317.03 L596.00,316.99 L596.25,316.95 L596.50,316.92 L596.75,316.88 L597.00,316.84 L597.25,316.80 L597.50,316.77 L597.75,316.73 L598.00,316.69 L598.25,316.65 L598.50,316.62 L598.75,316.58 L599.00,316.54 L599.25,316.51 L599.50,316.47 L599.75,316.43 L600.00,316.40 L600.25,316.36 L600.50,316.32 L600.75,316.29 L601.00,316.25 L601.25,316.21 L601.50,316.18 L601.75,316.14 L602.00,316.10 L602.25,316.07 L602.50,316.03 L602.75,315.99 L603.00,315.96 L603.25,315.92 L603.40,315.90" fill="none" stroke="#151515" stroke-width="1.35" stroke-linejoin="round"/>
<rect x="140.0" y="25.7" width="463.7" height="373.7" fill="none" stroke="#0a0a0a" stroke-width="2.2"/>
<defs><linearGradient id="basea" gradientUnits="userSpaceOnUse" x1="449.2" y1="108.3" x2="602.5" y2="47.3"><stop offset="0" stop-color="#2814ff"/><stop offset="0.12" stop-color="#2212ff"/><stop offset="0.3" stop-color="#1a12ff"/><stop offset="0.587" stop-color="#1212fa"/><stop offset="0.72" stop-color="#1010ee"/><stop offset="0.81" stop-color="#0a0ab0"/><stop offset="0.9" stop-color="#020262"/><stop offset="1" stop-color="#000040"/></linearGradient><radialGradient id="maga" gradientUnits="userSpaceOnUse" cx="0" cy="0" r="1" gradientTransform="translate(444.2,96.5) scale(40,56)"><stop offset="0" stop-color="#c626e6" stop-opacity="1"/><stop offset="0.35" stop-color="#b420ea" stop-opacity="1"/><stop offset="0.6" stop-color="#a41cf2" stop-opacity="0.85"/><stop offset="0.8" stop-color="#7a1cf8" stop-opacity="0.5"/><stop offset="1" stop-color="#4a20ff" stop-opacity="0"/></radialGradient><radialGradient id="vioa" gradientUnits="userSpaceOnUse" cx="449.2" cy="32.5" r="78"><stop offset="0" stop-color="#6632ff" stop-opacity="0.6"/><stop offset="0.5" stop-color="#5028ff" stop-opacity="0.32"/><stop offset="1" stop-color="#3018ff" stop-opacity="0"/></radialGradient><radialGradient id="blka" gradientUnits="userSpaceOnUse" cx="685" cy="249" r="273"><stop offset="0.000" stop-color="#000" stop-opacity="1"/><stop offset="0.744" stop-color="#000" stop-opacity="1"/><stop offset="0.780" stop-color="#000" stop-opacity="0.93"/><stop offset="0.810" stop-color="#000" stop-opacity="0.82"/><stop offset="0.839" stop-color="#000" stop-opacity="0.66"/><stop offset="0.868" stop-color="#000" stop-opacity="0.42"/><stop offset="0.897" stop-color="#000" stop-opacity="0.18"/><stop offset="0.927" stop-color="#000" stop-opacity="0.05"/><stop offset="0.956" stop-color="#000" stop-opacity="0"/></radialGradient><linearGradient id="wda" gradientUnits="userSpaceOnUse" x1="449.2" y1="0" x2="602.5" y2="0"><stop offset="0" stop-color="#fff" stop-opacity="0.5"/><stop offset="0.45" stop-color="#fff" stop-opacity="0.5"/><stop offset="0.6" stop-color="#fff" stop-opacity="0.3"/><stop offset="1" stop-color="#ffd0f0" stop-opacity="0.18"/></linearGradient></defs><clipPath id="clipa"><rect x="449.2" y="24.5" width="153.3" height="152.3"/></clipPath>
<g clip-path="url(#clipa)">
<rect x="449.2" y="24.5" width="153.3" height="152.3" fill="url(#basea)"/>
<rect x="449.2" y="24.5" width="153.3" height="152.3" fill="url(#vioa)"/>
<rect x="449.2" y="24.5" width="153.3" height="152.3" fill="url(#maga)"/>
<rect x="449.2" y="24.5" width="153.3" height="152.3" fill="url(#blka)"/>
<path d="M463.5,104.0 C463.6,102.7 463.6,98.0 463.8,96.0 C464.0,94.0 463.6,96.2 464.7,92.1 C465.8,88.0 467.7,78.1 470.7,71.5 C473.7,64.9 477.6,58.3 482.8,52.6 C488.0,46.9 494.7,41.5 501.6,37.2 C508.5,32.9 517.3,28.6 524.0,26.9 C530.7,25.2 536.1,25.8 542.0,27.2 C547.9,28.6 554.1,32.4 559.3,35.5 C564.5,38.6 569.3,41.8 573.0,45.8 C576.7,49.8 580.2,57.2 581.7,59.5" fill="none" stroke="url(#arcga)" stroke-width="3.2" opacity="0.4"/>
<path d="M474.5,104.0 C474.6,102.6 474.2,99.5 475.0,95.5 C475.8,91.5 477.2,85.2 479.3,80.1 C481.4,74.9 484.2,69.5 487.9,64.6 C491.6,59.7 495.4,54.7 501.6,50.9 C507.8,47.1 518.5,43.1 525.0,41.8 C531.5,40.5 534.8,41.2 540.5,43.2 C546.2,45.2 554.1,49.9 559.3,53.5 C564.4,57.1 569.4,62.7 571.4,64.6" fill="none" stroke="url(#arcg2a)" stroke-width="2.8" opacity="0.22"/>
<path d="M463.5,104.0 C463.6,102.7 463.6,98.0 463.8,96.0 C464.0,94.0 463.6,96.2 464.7,92.1 C465.8,88.0 467.7,78.1 470.7,71.5 C473.7,64.9 477.6,58.3 482.8,52.6 C488.0,46.9 494.7,41.5 501.6,37.2 C508.5,32.9 517.3,28.6 524.0,26.9 C530.7,25.2 536.1,25.8 542.0,27.2 C547.9,28.6 554.1,32.4 559.3,35.5 C564.5,38.6 569.3,41.8 573.0,45.8 C576.7,49.8 580.2,57.2 581.7,59.5" fill="none" stroke="url(#arcga)" stroke-width="1.1" opacity="0.75"/>
<path d="M474.5,104.0 C474.6,102.6 474.2,99.5 475.0,95.5 C475.8,91.5 477.2,85.2 479.3,80.1 C481.4,74.9 484.2,69.5 487.9,64.6 C491.6,59.7 495.4,54.7 501.6,50.9 C507.8,47.1 518.5,43.1 525.0,41.8 C531.5,40.5 534.8,41.2 540.5,43.2 C546.2,45.2 554.1,49.9 559.3,53.5 C564.4,57.1 569.4,62.7 571.4,64.6" fill="none" stroke="url(#arcg2a)" stroke-width="1.1" opacity="0.9"/>
<path d="M463.5,104.0 C463.6,102.7 463.6,98.0 463.8,96.0 C464.0,94.0 463.6,96.2 464.7,92.1 C465.8,88.0 467.7,78.1 470.7,71.5 C473.7,64.9 477.6,58.3 482.8,52.6 C488.0,46.9 494.7,41.5 501.6,37.2 C508.5,32.9 517.3,28.6 524.0,26.9 C530.7,25.2 536.1,25.8 542.0,27.2 C547.9,28.6 554.1,32.4 559.3,35.5 C564.5,38.6 569.3,41.8 573.0,45.8 C576.7,49.8 580.2,57.2 581.7,59.5" fill="none" stroke="url(#wda)" stroke-width="1" stroke-dasharray="2.5 9 1.5 13 3 17"/>
<path d="M474.5,104.0 C474.6,102.6 474.2,99.5 475.0,95.5 C475.8,91.5 477.2,85.2 479.3,80.1 C481.4,74.9 484.2,69.5 487.9,64.6 C491.6,59.7 495.4,54.7 501.6,50.9 C507.8,47.1 518.5,43.1 525.0,41.8 C531.5,40.5 534.8,41.2 540.5,43.2 C546.2,45.2 554.1,49.9 559.3,53.5 C564.4,57.1 569.4,62.7 571.4,64.6" fill="none" stroke="url(#wda)" stroke-width="1" stroke-dasharray="4 6 2 8 5 11"/>
<path d="M555.3,24.5 L529.4,111.8 L530.6,112.2 L558.7,25.5Z" fill="#00002c" fill-opacity="0.8"/>
<circle cx="530" cy="112" r="1.8" fill="#2222b0" opacity="0.4"/>
<text x="601.5" y="29.5" text-anchor="end" font-size="4.5" font-family="Liberation Sans, sans-serif" fill="#7d8090">[4768,2914]</text>
</g>
<text x="140.0" y="427.6" text-anchor="middle" font-size="24.5" font-family="Liberation Serif, serif" font-weight="bold">20</text>
<line x1="198.0" y1="399.4" x2="198.0" y2="395.4" stroke="#0a0a0a" stroke-width="1.6"/>
<line x1="255.9" y1="399.4" x2="255.9" y2="391.9" stroke="#0a0a0a" stroke-width="1.6"/>
<text x="255.9" y="427.6" text-anchor="middle" font-size="24.5" font-family="Liberation Serif, serif" font-weight="bold">30</text>
<line x1="313.9" y1="399.4" x2="313.9" y2="395.4" stroke="#0a0a0a" stroke-width="1.6"/>
<line x1="371.9" y1="399.4" x2="371.9" y2="391.9" stroke="#0a0a0a" stroke-width="1.6"/>
<text x="371.9" y="427.6" text-anchor="middle" font-size="24.5" font-family="Liberation Serif, serif" font-weight="bold">40</text>
<line x1="429.8" y1="399.4" x2="429.8" y2="395.4" stroke="#0a0a0a" stroke-width="1.6"/>
<line x1="487.8" y1="399.4" x2="487.8" y2="391.9" stroke="#0a0a0a" stroke-width="1.6"/>
<text x="487.8" y="427.6" text-anchor="middle" font-size="24.5" font-family="Liberation Serif, serif" font-weight="bold">50</text>
<line x1="545.7" y1="399.4" x2="545.7" y2="395.4" stroke="#0a0a0a" stroke-width="1.6"/>
<text x="603.7" y="427.6" text-anchor="middle" font-size="24.5" font-family="Liberation Serif, serif" font-weight="bold">60</text>
<text x="131.0" y="408.0" text-anchor="end" font-size="24.5" font-family="Liberation Serif, serif" font-weight="bold">0</text>
<line x1="140.0" y1="362.0" x2="144.0" y2="362.0" stroke="#0a0a0a" stroke-width="1.6"/>
<line x1="140.0" y1="324.7" x2="147.5" y2="324.7" stroke="#0a0a0a" stroke-width="1.6"/>
<text x="131.0" y="333.3" text-anchor="end" font-size="24.5" font-family="Liberation Serif, serif" font-weight="bold">1500</text>
<line x1="140.0" y1="287.3" x2="144.0" y2="287.3" stroke="#0a0a0a" stroke-width="1.6"/>
<line x1="140.0" y1="249.9" x2="147.5" y2="249.9" stroke="#0a0a0a" stroke-width="1.6"/>
<text x="131.0" y="258.5" text-anchor="end" font-size="24.5" font-family="Liberation Serif, serif" font-weight="bold">3000</text>
<line x1="140.0" y1="212.5" x2="144.0" y2="212.5" stroke="#0a0a0a" stroke-width="1.6"/>
<line x1="140.0" y1="175.2" x2="147.5" y2="175.2" stroke="#0a0a0a" stroke-width="1.6"/>
<text x="131.0" y="183.8" text-anchor="end" font-size="24.5" font-family="Liberation Serif, serif" font-weight="bold">4500</text>
<line x1="140.0" y1="137.8" x2="144.0" y2="137.8" stroke="#0a0a0a" stroke-width="1.6"/>
<line x1="140.0" y1="100.4" x2="147.5" y2="100.4" stroke="#0a0a0a" stroke-width="1.6"/>
<text x="131.0" y="109.0" text-anchor="end" font-size="24.5" font-family="Liberation Serif, serif" font-weight="bold">6000</text>
<line x1="140.0" y1="63.1" x2="144.0" y2="63.1" stroke="#0a0a0a" stroke-width="1.6"/>
<text x="131.0" y="34.3" text-anchor="end" font-size="24.5" font-family="Liberation Serif, serif" font-weight="bold">7500</text>
<text x="362.5" y="455.7" text-anchor="middle" font-size="24.5" font-family="Liberation Serif, serif" font-weight="bold">2-Theta (degree)</text>
<text transform="translate(72.1,211.7) rotate(-90)" text-anchor="middle" font-size="24.5" font-family="Liberation Serif, serif" font-weight="bold">Intensity</text>
<text x="4.2" y="37.4" font-size="32.5" letter-spacing="1.1" font-family="Liberation Sans, sans-serif" fill="#111">(a)</text>
<path d="M163.8,65.0 L177.8,65.0 L170.8,53.5Z" fill="#000"/>
<rect x="165.6" y="82.8" width="10.5" height="10.5" fill="#000"/>
<circle cx="170.2" cy="112.8" r="5.8" fill="#000"/>
<path d="M163.3,145.3 L170.8,137.8 L178.3,145.3 L170.8,152.8Z" fill="#000"/>
<text x="191.8" y="66.3" font-size="22" font-family="Liberation Serif, serif" font-weight="bold">Al</text>
<text x="191.8" y="98.8" font-size="22" font-family="Liberation Serif, serif" font-weight="bold">Fe</text>
<text x="191.3" y="126.2" font-size="22" font-family="Liberation Serif, serif" font-weight="bold">Fe<tspan dy="6" font-size="16">2</tspan><tspan dy="-6">Al</tspan><tspan dy="6" font-size="16">5</tspan></text>
<text x="190.3" y="154.0" font-size="22" font-family="Liberation Serif, serif" font-weight="bold">Fe<tspan dy="6" font-size="16">4</tspan><tspan dy="-6">Al</tspan><tspan dy="6" font-size="16">13</tspan></text>
<path d="M399.0,337.0 L380.5,223.3 L459.0,114.4" fill="none" stroke="#000" stroke-width="2.6" stroke-linejoin="miter"/><path d="M467.0,103.4 L461.7,120.6 L452.4,113.8Z" fill="#000"/>
<path d="M411.3,326.0 L395.0,238.8 L460.5,130.4" fill="none" stroke="#000" stroke-width="2.6" stroke-linejoin="miter"/><path d="M467.5,118.8 L463.6,136.3 L453.8,130.4Z" fill="#000"/>
<path d="M347.0,83.2 L361.0,83.2 L354.0,71.8Z" fill="#000"/>
<rect x="420.9" y="216.7" width="10.5" height="10.5" fill="#000"/>
<path d="M419.0,244.6 L433.0,244.6 L426.0,233.1Z" fill="#000"/>
<circle cx="399.0" cy="338.5" r="5.8" fill="#000"/>
<path d="M403.8,327.5 L411.0,320.3 L418.2,327.5 L411.0,334.7Z" fill="#000"/>
<rect x="745.0" y="26.6" width="463.9" height="373.6" fill="url(#bg)"/>
<path d="M745.30,396.10 L745.55,396.09 L745.80,396.08 L746.05,396.07 L746.30,396.06 L746.55,396.04 L746.80,396.03 L747.05,396.02 L747.30,396.01 L747.55,396.00 L747.80,395.99 L748.05,395.97 L748.30,395.96 L748.55,395.95 L748.80,395.94 L749.05,395.92 L749.30,395.91 L749.55,395.90 L749.80,395.89 L750.05,395.87 L750.30,395.86 L750.55,395.85 L750.80,395.84 L751.05,395.82 L751.30,395.81 L751.55,395.80 L751.80,395.78 L752.05,395.77 L752.30,395.75 L752.55,395.74 L752.80,395.73 L753.05,395.71 L753.30,395.70 L753.55,395.68 L753.80,395.67 L754.05,395.66 L754.30,395.64 L754.55,395.63 L754.80,395.61 L755.05,395.60 L755.30,395.58 L755.55,395.57 L755.80,395.55 L756.05,395.54 L756.30,395.52 L756.55,395.51 L756.80,395.49 L757.05,395.48 L757.30,395.46 L757.55,395.45 L757.80,395.43 L758.05,395.42 L758.30,395.40 L758.55,395.38 L758.80,395.37 L759.05,395.35 L759.30,395.34 L759.55,395.32 L759.80,395.30 L760.05,395.29 L760.30,395.27 L760.55,395.25 L760.80,395.24 L761.05,395.22 L761.30,395.20 L761.55,395.19 L761.80,395.17 L762.05,395.15 L762.30,395.14 L762.55,395.12 L762.80,395.10 L763.05,395.08 L763.30,395.07 L763.55,395.05 L763.80,395.03 L764.05,395.01 L764.30,395.00 L764.55,394.98 L764.80,394.96 L765.05,394.94 L765.30,394.93 L765.55,394.91 L765.80,394.89 L766.05,394.87 L766.30,394.85 L766.55,394.84 L766.80,394.82 L767.05,394.80 L767.30,394.78 L767.55,394.76 L767.80,394.74 L768.05,394.73 L768.30,394.71 L768.55,394.69 L768.80,394.67 L769.05,394.65 L769.30,394.63 L769.55,394.61 L769.80,394.59 L770.05,394.58 L770.30,394.56 L770.55,394.54 L770.80,394.52 L771.05,394.50 L771.30,394.48 L771.55,394.46 L771.80,394.44 L772.05,394.42 L772.30,394.40 L772.55,394.38 L772.80,394.36 L773.05,394.34 L773.30,394.32 L773.55,394.30 L773.60,394.30 L773.80,394.28 L774.05,394.26 L774.30,394.24 L774.55,394.22 L774.80,394.20 L775.05,394.18 L775.30,394.16 L775.55,394.14 L775.80,394.12 L776.05,394.10 L776.30,394.08 L776.55,394.06 L776.80,394.04 L777.05,394.02 L777.30,393.99 L777.55,393.97 L777.80,393.95 L778.05,393.93 L778.30,393.91 L778.55,393.88 L778.80,393.86 L779.05,393.84 L779.30,393.82 L779.55,393.79 L779.80,393.77 L780.05,393.75 L780.30,393.72 L780.55,393.70 L780.80,393.68 L781.05,393.66 L781.30,393.63 L781.55,393.61 L781.80,393.58 L782.05,393.56 L782.30,393.54 L782.55,393.51 L782.80,393.49 L783.05,393.46 L783.30,393.44 L783.55,393.42 L783.80,393.39 L784.05,393.37 L784.30,393.34 L784.55,393.32 L784.80,393.29 L785.05,393.27 L785.30,393.24 L785.55,393.22 L785.80,393.19 L786.05,393.16 L786.30,393.14 L786.55,393.11 L786.80,393.09 L787.05,393.06 L787.30,393.03 L787.55,393.01 L787.80,392.98 L788.05,392.96 L788.30,392.93 L788.55,392.90 L788.80,392.88 L789.05,392.85 L789.30,392.82 L789.55,392.80 L789.80,392.77 L790.05,392.74 L790.30,392.71 L790.55,392.69 L790.80,392.66 L791.05,392.63 L791.30,392.60 L791.55,392.58 L791.80,392.55 L792.05,392.52 L792.30,392.49 L792.55,392.47 L792.80,392.44 L793.05,392.41 L793.30,392.38 L793.55,392.35 L793.80,392.32 L794.05,392.30 L794.30,392.27 L794.55,392.24 L794.80,392.21 L795.05,392.18 L795.30,392.15 L795.55,392.12 L795.80,392.09 L796.05,392.06 L796.30,392.04 L796.55,392.01 L796.80,391.98 L797.05,391.95 L797.30,391.92 L797.55,391.89 L797.80,391.86 L798.05,391.83 L798.30,391.80 L798.55,391.77 L798.80,391.74 L799.05,391.71 L799.30,391.68 L799.55,391.65 L799.80,391.62 L800.05,391.59 L800.30,391.56 L800.55,391.53 L800.80,391.50 L801.05,391.47 L801.30,391.44 L801.55,391.40 L801.80,391.37 L802.05,391.34 L802.30,391.31 L802.55,391.28 L802.80,391.25 L803.05,391.22 L803.20,391.20 L803.30,391.19 L803.55,391.16 L803.80,391.12 L804.05,391.09 L804.30,391.06 L804.55,391.03 L804.80,391.00 L805.05,390.97 L805.30,390.93 L805.55,390.90 L805.80,390.87 L806.05,390.84 L806.30,390.80 L806.55,390.77 L806.80,390.74 L807.05,390.70 L807.30,390.67 L807.55,390.64 L807.80,390.60 L808.05,390.57 L808.30,390.53 L808.55,390.50 L808.80,390.47 L809.05,390.43 L809.30,390.40 L809.55,390.36 L809.80,390.33 L810.05,390.29 L810.30,390.26 L810.55,390.22 L810.80,390.19 L811.05,390.15 L811.30,390.12 L811.55,390.08 L811.80,390.04 L812.05,390.01 L812.30,389.97 L812.55,389.93 L812.80,389.90 L813.05,389.86 L813.30,389.82 L813.55,389.79 L813.80,389.75 L814.05,389.71 L814.30,389.67 L814.55,389.64 L814.80,389.60 L815.05,389.56 L815.30,389.52 L815.55,389.48 L815.80,389.45 L816.05,389.41 L816.30,389.37 L816.55,389.33 L816.80,389.29 L817.05,389.25 L817.30,389.21 L817.55,389.17 L817.80,389.13 L818.05,389.09 L818.30,389.05 L818.55,389.01 L818.80,388.97 L819.05,388.93 L819.30,388.89 L819.55,388.85 L819.80,388.81 L820.05,388.77 L820.30,388.73 L820.55,388.68 L820.80,388.64 L821.05,388.60 L821.30,388.56 L821.55,388.52 L821.80,388.47 L822.05,388.43 L822.30,388.39 L822.55,388.35 L822.80,388.30 L823.05,388.26 L823.30,388.22 L823.55,388.17 L823.80,388.13 L824.05,388.09 L824.30,388.04 L824.55,388.00 L824.80,387.95 L825.05,387.91 L825.10,387.90 L825.30,387.86 L825.55,387.82 L825.80,387.77 L826.05,387.73 L826.30,387.68 L826.55,387.64 L826.80,387.59 L827.05,387.54 L827.30,387.49 L827.55,387.45 L827.80,387.40 L828.05,387.35 L828.30,387.30 L828.55,387.25 L828.80,387.20 L829.05,387.15 L829.30,387.10 L829.55,387.05 L829.80,387.00 L830.05,386.95 L830.30,386.90 L830.55,386.85 L830.80,386.80 L831.05,386.75 L831.30,386.69 L831.55,386.64 L831.80,386.59 L832.05,386.54 L832.30,386.48 L832.55,386.43 L832.80,386.38 L833.05,386.32 L833.30,386.27 L833.55,386.21 L833.80,386.16 L834.05,386.10 L834.30,386.05 L834.55,385.99 L834.80,385.94 L835.05,385.88 L835.30,385.83 L835.55,385.77 L835.80,385.72 L836.05,385.66 L836.30,385.60 L836.55,385.55 L836.80,385.49 L837.05,385.43 L837.30,385.38 L837.55,385.32 L837.80,385.26 L838.05,385.21 L838.30,385.15 L838.55,385.09 L838.80,385.03 L839.05,384.97 L839.30,384.92 L839.55,384.86 L839.80,384.80 L840.05,384.74 L840.30,384.68 L840.55,384.62 L840.80,384.57 L841.05,384.51 L841.30,384.45 L841.55,384.39 L841.80,384.33 L842.05,384.27 L842.30,384.21 L842.55,384.15 L842.80,384.09 L843.05,384.04 L843.20,384.00 L843.30,383.98 L843.55,383.92 L843.80,383.86 L844.05,383.80 L844.30,383.74 L844.55,383.68 L844.80,383.62 L845.05,383.56 L845.30,383.50 L845.55,383.44 L845.80,383.38 L846.05,383.32 L846.30,383.26 L846.55,383.20 L846.80,383.13 L847.05,383.07 L847.30,383.01 L847.55,382.95 L847.80,382.89 L848.05,382.83 L848.30,382.77 L848.55,382.70 L848.80,382.64 L849.05,382.58 L849.30,382.52 L849.55,382.45 L849.80,382.39 L850.05,382.33 L850.30,382.26 L850.55,382.20 L850.80,382.14 L851.05,382.07 L851.30,382.01 L851.55,381.94 L851.80,381.88 L852.05,381.81 L852.30,381.75 L852.55,381.68 L852.80,381.62 L853.05,381.55 L853.30,381.48 L853.55,381.42 L853.80,381.35 L854.05,381.28 L854.30,381.22 L854.55,381.15 L854.80,381.08 L855.05,381.01 L855.30,380.95 L855.55,380.88 L855.80,380.81 L856.05,380.74 L856.30,380.67 L856.55,380.60 L856.80,380.53 L857.05,380.46 L857.30,380.39 L857.55,380.32 L857.80,380.25 L858.05,380.18 L858.30,380.11 L858.55,380.03 L858.80,379.96 L859.05,379.89 L859.30,379.82 L859.55,379.74 L859.80,379.67 L860.05,379.59 L860.30,379.52 L860.55,379.44 L860.70,379.40 L860.80,379.37 L861.05,379.29 L861.30,379.22 L861.55,379.14 L861.80,379.06 L862.05,378.98 L862.30,378.90 L862.55,378.83 L862.80,378.74 L863.05,378.66 L863.30,378.58 L863.55,378.50 L863.80,378.42 L864.05,378.33 L864.30,378.25 L864.55,378.17 L864.80,378.08 L865.05,378.00 L865.30,377.91 L865.55,377.82 L865.80,377.74 L866.05,377.65 L866.30,377.56 L866.55,377.47 L866.80,377.39 L867.05,377.30 L867.30,377.21 L867.55,377.12 L867.80,377.03 L868.05,376.94 L868.30,376.85 L868.55,376.76 L868.80,376.67 L869.05,376.58 L869.30,376.49 L869.55,376.40 L869.80,376.30 L870.05,376.21 L870.30,376.12 L870.55,376.03 L870.80,375.94 L871.05,375.84 L871.30,375.75 L871.55,375.66 L871.80,375.57 L872.05,375.48 L872.30,375.38 L872.55,375.29 L872.80,375.20 L873.05,375.11 L873.30,375.02 L873.55,374.92 L873.80,374.83 L874.05,374.74 L874.30,374.65 L874.55,374.56 L874.80,374.47 L875.05,374.37 L875.30,374.28 L875.55,374.19 L875.80,374.10 L876.05,374.01 L876.30,373.92 L876.55,373.83 L876.80,373.74 L877.05,373.65 L877.30,373.56 L877.55,373.48 L877.80,373.39 L878.05,373.30 L878.30,373.21 L878.55,373.12 L878.80,373.04 L879.05,372.95 L879.20,372.90 L879.30,372.87 L879.55,372.78 L879.80,372.69 L880.05,372.61 L880.30,372.52 L880.55,372.44 L880.80,372.35 L881.05,372.27 L881.30,372.18 L881.55,372.10 L881.80,372.01 L882.05,371.93 L882.30,371.84 L882.55,371.76 L882.80,371.67 L883.05,371.58 L883.30,371.50 L883.55,371.41 L883.80,371.33 L884.05,371.25 L884.30,371.16 L884.55,371.08 L884.80,370.99 L885.05,370.91 L885.30,370.82 L885.55,370.74 L885.80,370.65 L886.05,370.57 L886.30,370.48 L886.55,370.40 L886.80,370.32 L887.05,370.23 L887.30,370.15 L887.55,370.06 L887.80,369.98 L888.05,369.89 L888.30,369.81 L888.55,369.73 L888.80,369.64 L889.05,369.56 L889.30,369.47 L889.55,369.39 L889.80,369.31 L890.05,369.22 L890.30,369.14 L890.55,369.06 L890.80,368.97 L891.05,368.89 L891.30,368.81 L891.55,368.72 L891.80,368.64 L892.05,368.56 L892.30,368.47 L892.55,368.39 L892.80,368.31 L893.05,368.22 L893.30,368.14 L893.55,368.06 L893.80,367.97 L894.05,367.89 L894.30,367.81 L894.55,367.73 L894.80,367.64 L895.05,367.56 L895.30,367.48 L895.55,367.40 L895.80,367.31 L896.05,367.23 L896.30,367.15 L896.55,367.07 L896.80,366.98 L897.05,366.90 L897.30,366.82 L897.55,366.74 L897.80,366.66 L898.05,366.57 L898.30,366.49 L898.55,366.41 L898.80,366.33 L899.05,366.25 L899.30,366.16 L899.55,366.08 L899.80,366.00 L900.05,365.92 L900.30,365.84 L900.55,365.75 L900.80,365.67 L901.05,365.59 L901.30,365.51 L901.55,365.42 L901.80,365.34 L902.05,365.26 L902.30,365.18 L902.55,365.09 L902.80,365.01 L903.05,364.93 L903.30,364.84 L903.55,364.76 L903.80,364.68 L904.05,364.59 L904.30,364.51 L904.55,364.43 L904.80,364.34 L905.05,364.26 L905.30,364.18 L905.55,364.09 L905.80,364.01 L906.05,363.93 L906.30,363.85 L906.55,363.76 L906.80,363.68 L907.05,363.60 L907.30,363.51 L907.55,363.43 L907.80,363.35 L908.05,363.27 L908.30,363.18 L908.55,363.10 L908.80,363.02 L909.05,362.94 L909.30,362.86 L909.55,362.77 L909.80,362.69 L910.05,362.61 L910.30,362.53 L910.55,362.45 L910.80,362.37 L911.05,362.29 L911.30,362.21 L911.55,362.13 L911.80,362.05 L912.05,361.97 L912.30,361.89 L912.55,361.81 L912.80,361.73 L913.05,361.65 L913.30,361.57 L913.55,361.50 L913.80,361.42 L914.05,361.34 L914.30,361.26 L914.55,361.19 L914.80,361.11 L915.05,361.04 L915.30,360.96 L915.55,360.88 L915.80,360.81 L916.05,360.74 L916.30,360.66 L916.55,360.59 L916.80,360.51 L917.05,360.44 L917.30,360.37 L917.55,360.30 L917.80,360.23 L918.05,360.15 L918.30,360.08 L918.55,360.01 L918.60,360.00 L918.80,359.94 L919.05,359.88 L919.30,359.81 L919.55,359.74 L919.80,359.67 L920.05,359.60 L920.30,359.54 L920.55,359.47 L920.80,359.40 L921.05,359.34 L921.30,359.27 L921.55,359.21 L921.80,359.14 L922.05,359.08 L922.30,359.01 L922.55,358.95 L922.80,358.88 L923.05,358.82 L923.30,358.76 L923.55,358.70 L923.80,358.63 L924.05,358.57 L924.30,358.51 L924.55,358.45 L924.80,358.38 L925.05,358.32 L925.30,358.26 L925.55,358.20 L925.80,358.14 L926.05,358.08 L926.30,358.02 L926.55,357.96 L926.80,357.90 L927.05,357.84 L927.30,357.78 L927.55,357.72 L927.80,357.66 L928.05,357.60 L928.30,357.54 L928.55,357.48 L928.80,357.42 L929.05,357.36 L929.30,357.30 L929.55,357.24 L929.80,357.18 L930.05,357.12 L930.30,357.06 L930.55,357.00 L930.80,356.94 L931.05,356.88 L931.30,356.82 L931.55,356.76 L931.80,356.70 L932.05,356.64 L932.30,356.58 L932.55,356.52 L932.80,356.46 L933.05,356.40 L933.30,356.34 L933.55,356.28 L933.80,356.22 L934.05,356.16 L934.30,356.10 L934.55,356.03 L934.80,355.97 L935.05,355.91 L935.30,355.85 L935.55,355.79 L935.80,355.73 L935.90,355.70 L936.05,355.66 L936.30,355.60 L936.55,355.54 L936.80,355.48 L937.05,355.43 L937.30,355.37 L937.55,355.32 L937.80,355.27 L938.05,355.21 L938.30,355.16 L938.55,355.11 L938.80,355.06 L939.05,355.01 L939.30,354.96 L939.55,354.91 L939.80,354.86 L940.05,354.80 L940.30,354.75 L940.55,354.70 L940.80,354.65 L941.05,354.60 L941.30,354.54 L941.55,354.49 L941.80,354.43 L942.05,354.37 L942.30,354.31 L942.55,354.25 L942.80,354.19 L943.05,354.12 L943.30,354.06 L943.55,353.99 L943.80,353.92 L944.05,353.85 L944.30,353.77 L944.55,353.69 L944.80,353.61 L945.05,353.53 L945.30,353.44 L945.55,353.35 L945.80,353.26 L946.05,353.16 L946.20,353.10 L946.30,353.06 L946.55,352.95 L946.80,352.84 L947.05,352.72 L947.30,352.59 L947.55,352.45 L947.80,352.31 L948.05,352.15 L948.30,351.99 L948.55,351.82 L948.80,351.64 L949.05,351.44 L949.30,351.24 L949.55,351.03 L949.80,350.80 L950.05,350.57 L950.30,350.32 L950.55,350.06 L950.80,349.78 L951.05,349.50 L951.30,349.20 L951.55,348.89 L951.80,348.57 L952.05,348.23 L952.30,347.85 L952.55,347.43 L952.80,346.94 L953.05,346.37 L953.30,345.72 L953.55,344.97 L953.80,344.11 L954.05,343.12 L954.30,341.99 L954.40,341.50 L954.55,340.26 L954.80,336.36 L955.05,330.75 L955.30,324.13 L955.55,317.17 L955.60,315.80 L955.80,310.73 L956.05,303.77 L956.30,293.19 L956.40,287.25 L956.55,263.15 L956.80,208.38 L956.80,208.38 L957.05,178.27 L957.30,155.36 L957.45,145.52 L957.55,140.30 L957.80,129.55 L958.05,121.44 L958.15,118.75 L958.30,114.76 L958.55,109.20 L958.70,108.00 L958.80,108.56 L959.05,113.45 L959.25,118.75 L959.30,120.06 L959.55,127.74 L959.80,137.90 L959.95,145.52 L960.05,151.74 L960.30,173.08 L960.55,201.83 L960.60,208.38 L960.80,250.44 L961.00,287.25 L961.05,291.18 L961.30,307.48 L961.55,318.91 L961.80,326.45 L961.90,328.60 L962.05,331.38 L962.30,335.42 L962.55,338.67 L962.80,341.09 L963.05,342.61 L963.10,342.80 L963.30,343.46 L963.55,344.21 L963.80,344.88 L964.05,345.45 L964.30,345.95 L964.55,346.36 L964.80,346.69 L965.05,346.94 L965.30,347.12 L965.50,347.20 L965.55,347.21 L965.80,347.28 L966.05,347.35 L966.30,347.41 L966.55,347.46 L966.80,347.50 L967.05,347.54 L967.30,347.57 L967.55,347.59 L967.80,347.60 L968.00,347.60 L968.05,347.60 L968.30,347.60 L968.55,347.59 L968.80,347.58 L969.05,347.56 L969.30,347.54 L969.55,347.52 L969.80,347.50 L970.05,347.47 L970.30,347.44 L970.55,347.40 L970.80,347.37 L971.05,347.33 L971.30,347.28 L971.55,347.24 L971.80,347.19 L972.05,347.15 L972.30,347.10 L972.55,347.04 L972.80,346.99 L973.05,346.94 L973.30,346.88 L973.55,346.83 L973.80,346.77 L974.05,346.72 L974.30,346.66 L974.55,346.60 L974.80,346.55 L975.00,346.50 L975.05,346.49 L975.30,346.43 L975.55,346.36 L975.80,346.28 L976.05,346.20 L976.30,346.12 L976.55,346.02 L976.80,345.93 L977.05,345.83 L977.30,345.72 L977.55,345.62 L977.80,345.51 L978.05,345.40 L978.30,345.28 L978.55,345.17 L978.80,345.05 L979.05,344.94 L979.30,344.82 L979.55,344.71 L979.80,344.60 L980.05,344.49 L980.30,344.38 L980.55,344.27 L980.80,344.17 L981.05,344.07 L981.30,343.97 L981.50,343.90 L981.55,343.88 L981.80,343.79 L982.05,343.69 L982.30,343.59 L982.55,343.49 L982.80,343.38 L983.05,343.28 L983.30,343.17 L983.55,343.06 L983.80,342.95 L984.05,342.85 L984.30,342.74 L984.55,342.64 L984.80,342.54 L985.05,342.44 L985.30,342.35 L985.55,342.26 L985.80,342.18 L986.05,342.11 L986.30,342.04 L986.55,341.98 L986.80,341.92 L987.05,341.88 L987.30,341.84 L987.55,341.82 L987.80,341.80 L988.00,341.80 L988.05,341.80 L988.30,341.82 L988.55,341.87 L988.80,341.94 L989.05,342.03 L989.30,342.12 L989.55,342.21 L989.80,342.29 L990.05,342.35 L990.30,342.39 L990.50,342.40 L990.55,342.40 L990.80,342.39 L991.05,342.37 L991.30,342.33 L991.55,342.29 L991.80,342.23 L992.05,342.16 L992.30,342.09 L992.55,342.01 L992.80,341.92 L993.05,341.83 L993.30,341.74 L993.55,341.64 L993.80,341.54 L994.05,341.44 L994.30,341.34 L994.40,341.30 L994.55,341.23 L994.80,341.10 L995.05,340.93 L995.30,340.74 L995.55,340.53 L995.80,340.31 L996.05,340.08 L996.30,339.85 L996.55,339.63 L996.80,339.42 L997.05,339.22 L997.30,339.05 L997.55,338.91 L997.80,338.80 L998.05,338.72 L998.30,338.70 L998.55,338.72 L998.80,338.79 L999.05,338.88 L999.30,339.01 L999.55,339.16 L999.80,339.32 L1000.05,339.49 L1000.30,339.67 L1000.55,339.85 L1000.80,340.01 L1001.05,340.16 L1001.30,340.29 L1001.55,340.40 L1001.80,340.47 L1002.05,340.50 L1002.10,340.50 L1002.30,340.50 L1002.55,340.49 L1002.80,340.47 L1003.05,340.44 L1003.30,340.41 L1003.55,340.37 L1003.80,340.32 L1004.05,340.27 L1004.30,340.21 L1004.55,340.14 L1004.80,340.08 L1005.05,340.00 L1005.30,339.92 L1005.55,339.84 L1005.80,339.76 L1006.05,339.67 L1006.30,339.58 L1006.55,339.49 L1006.80,339.39 L1007.05,339.30 L1007.30,339.20 L1007.55,339.08 L1007.80,338.93 L1008.05,338.74 L1008.30,338.53 L1008.55,338.29 L1008.80,338.03 L1009.05,337.76 L1009.30,337.47 L1009.55,337.18 L1009.80,336.88 L1010.05,336.59 L1010.30,336.30 L1010.55,336.01 L1010.80,335.75 L1011.05,335.50 L1011.30,335.27 L1011.55,335.06 L1011.80,334.89 L1012.05,334.75 L1012.30,334.65 L1012.50,334.60 L1012.55,334.59 L1012.80,334.55 L1013.05,334.52 L1013.30,334.49 L1013.55,334.46 L1013.80,334.44 L1014.05,334.42 L1014.30,334.40 L1014.55,334.38 L1014.80,334.36 L1015.05,334.34 L1015.30,334.32 L1015.55,334.30 L1015.80,334.27 L1016.05,334.24 L1016.30,334.20 L1016.55,334.16 L1016.80,334.11 L1017.05,334.06 L1017.30,334.00 L1017.55,333.94 L1017.80,333.87 L1018.05,333.79 L1018.30,333.71 L1018.55,333.62 L1018.80,333.52 L1019.05,333.41 L1019.30,333.30 L1019.55,333.17 L1019.80,333.04 L1020.05,332.89 L1020.20,332.80 L1020.30,332.73 L1020.55,332.51 L1020.80,332.23 L1021.05,331.88 L1021.30,331.46 L1021.55,330.99 L1021.80,330.46 L1022.05,329.88 L1022.30,329.25 L1022.55,328.56 L1022.80,327.84 L1023.05,327.07 L1023.30,326.26 L1023.55,325.41 L1023.80,324.53 L1024.00,323.80 L1024.05,323.61 L1024.30,322.57 L1024.55,321.36 L1024.80,319.98 L1025.05,318.43 L1025.30,316.69 L1025.55,314.78 L1025.80,312.68 L1026.05,310.40 L1026.30,307.92 L1026.50,305.80 L1026.55,305.25 L1026.80,302.31 L1027.05,298.84 L1027.30,294.55 L1027.55,289.14 L1027.80,282.34 L1027.90,279.16 L1028.05,270.92 L1028.30,246.89 L1028.55,218.37 L1028.80,195.09 L1029.05,179.83 L1029.30,167.24 L1029.55,154.76 L1029.80,139.84 L1030.05,116.78 L1030.25,102.61 L1030.30,101.02 L1030.55,94.46 L1030.80,91.80 L1031.05,94.46 L1031.30,101.02 L1031.35,102.61 L1031.55,116.78 L1031.80,139.84 L1032.05,154.76 L1032.30,167.24 L1032.55,179.83 L1032.80,195.09 L1033.05,218.18 L1033.30,246.42 L1033.55,270.53 L1033.70,279.16 L1033.80,282.64 L1034.05,289.77 L1034.30,295.20 L1034.55,299.69 L1034.80,303.98 L1034.90,305.80 L1035.05,308.73 L1035.30,313.81 L1035.55,318.52 L1035.80,322.15 L1036.00,323.80 L1036.05,324.04 L1036.30,325.13 L1036.55,326.08 L1036.80,326.90 L1037.05,327.60 L1037.30,328.20 L1037.55,328.69 L1037.80,329.10 L1038.05,329.44 L1038.30,329.71 L1038.40,329.80 L1038.55,329.93 L1038.80,330.13 L1039.05,330.32 L1039.30,330.50 L1039.55,330.66 L1039.80,330.81 L1040.05,330.94 L1040.30,331.07 L1040.55,331.18 L1040.80,331.28 L1041.05,331.37 L1041.30,331.44 L1041.55,331.51 L1041.80,331.56 L1042.00,331.60 L1042.05,331.61 L1042.30,331.65 L1042.55,331.69 L1042.80,331.72 L1043.05,331.76 L1043.30,331.79 L1043.55,331.83 L1043.80,331.86 L1044.05,331.89 L1044.30,331.92 L1044.55,331.95 L1044.80,331.98 L1045.05,332.00 L1045.30,332.03 L1045.55,332.05 L1045.80,332.07 L1046.05,332.09 L1046.30,332.11 L1046.55,332.13 L1046.80,332.14 L1047.05,332.16 L1047.30,332.17 L1047.55,332.18 L1047.80,332.19 L1048.05,332.19 L1048.30,332.20 L1048.55,332.20 L1048.80,332.20 L1049.05,332.20 L1049.30,332.19 L1049.55,332.18 L1049.80,332.17 L1050.05,332.15 L1050.30,332.13 L1050.55,332.10 L1050.80,332.08 L1051.05,332.04 L1051.30,332.01 L1051.55,331.97 L1051.80,331.93 L1052.05,331.89 L1052.30,331.85 L1052.55,331.80 L1052.80,331.75 L1053.05,331.70 L1053.30,331.64 L1053.55,331.59 L1053.80,331.53 L1054.05,331.47 L1054.30,331.41 L1054.55,331.35 L1054.80,331.28 L1055.05,331.22 L1055.30,331.15 L1055.55,331.09 L1055.80,331.02 L1056.05,330.95 L1056.30,330.88 L1056.55,330.81 L1056.80,330.74 L1057.05,330.68 L1057.30,330.61 L1057.55,330.54 L1057.80,330.47 L1058.05,330.40 L1058.30,330.33 L1058.55,330.27 L1058.80,330.20 L1059.05,330.14 L1059.30,330.07 L1059.55,330.01 L1059.80,329.95 L1060.05,329.89 L1060.30,329.83 L1060.55,329.77 L1060.80,329.72 L1061.05,329.66 L1061.30,329.61 L1061.55,329.56 L1061.80,329.52 L1061.90,329.50 L1062.05,329.47 L1062.30,329.43 L1062.55,329.39 L1062.80,329.34 L1063.05,329.30 L1063.30,329.26 L1063.55,329.22 L1063.80,329.18 L1064.05,329.14 L1064.30,329.10 L1064.55,329.06 L1064.80,329.02 L1065.05,328.98 L1065.30,328.94 L1065.55,328.90 L1065.80,328.86 L1066.05,328.82 L1066.30,328.79 L1066.55,328.75 L1066.80,328.71 L1067.05,328.68 L1067.30,328.64 L1067.55,328.60 L1067.80,328.57 L1068.05,328.53 L1068.30,328.49 L1068.55,328.46 L1068.80,328.42 L1069.05,328.39 L1069.30,328.35 L1069.55,328.32 L1069.80,328.28 L1070.05,328.25 L1070.30,328.21 L1070.55,328.18 L1070.80,328.15 L1071.05,328.11 L1071.30,328.08 L1071.55,328.04 L1071.80,328.01 L1072.05,327.97 L1072.30,327.94 L1072.55,327.91 L1072.80,327.87 L1073.05,327.84 L1073.30,327.80 L1073.55,327.77 L1073.80,327.74 L1074.05,327.70 L1074.30,327.67 L1074.55,327.63 L1074.80,327.60 L1075.05,327.56 L1075.30,327.53 L1075.55,327.49 L1075.80,327.46 L1076.05,327.42 L1076.30,327.39 L1076.55,327.35 L1076.80,327.32 L1077.05,327.28 L1077.30,327.25 L1077.55,327.21 L1077.80,327.17 L1078.05,327.14 L1078.30,327.10 L1078.55,327.06 L1078.80,327.02 L1079.05,326.99 L1079.30,326.95 L1079.55,326.91 L1079.80,326.87 L1080.05,326.83 L1080.30,326.79 L1080.55,326.75 L1080.80,326.71 L1081.05,326.67 L1081.30,326.63 L1081.55,326.59 L1081.80,326.55 L1082.05,326.51 L1082.30,326.46 L1082.55,326.42 L1082.80,326.38 L1083.05,326.33 L1083.30,326.29 L1083.55,326.25 L1083.80,326.20 L1084.05,326.15 L1084.30,326.11 L1084.55,326.06 L1084.80,326.01 L1085.05,325.97 L1085.30,325.92 L1085.55,325.87 L1085.80,325.82 L1086.05,325.77 L1086.30,325.72 L1086.55,325.67 L1086.80,325.62 L1087.05,325.56 L1087.30,325.51 L1087.55,325.46 L1087.80,325.40 L1088.05,325.35 L1088.30,325.30 L1088.55,325.24 L1088.80,325.19 L1089.05,325.13 L1089.30,325.08 L1089.55,325.02 L1089.80,324.96 L1090.05,324.90 L1090.30,324.85 L1090.55,324.79 L1090.80,324.73 L1091.05,324.67 L1091.30,324.61 L1091.55,324.55 L1091.80,324.49 L1092.05,324.43 L1092.30,324.37 L1092.55,324.31 L1092.60,324.30 L1092.80,324.25 L1093.05,324.18 L1093.30,324.10 L1093.55,324.02 L1093.80,323.94 L1094.05,323.85 L1094.30,323.76 L1094.55,323.67 L1094.80,323.58 L1095.05,323.49 L1095.30,323.39 L1095.55,323.31 L1095.80,323.22 L1096.05,323.14 L1096.30,323.06 L1096.55,322.99 L1096.80,322.92 L1097.05,322.86 L1097.30,322.81 L1097.55,322.77 L1097.80,322.73 L1098.05,322.71 L1098.30,322.70 L1098.40,322.70 L1098.55,322.71 L1098.80,322.74 L1099.05,322.80 L1099.30,322.87 L1099.55,322.96 L1099.80,323.06 L1100.05,323.16 L1100.30,323.26 L1100.55,323.34 L1100.80,323.42 L1101.05,323.47 L1101.30,323.50 L1101.40,323.50 L1101.55,323.50 L1101.80,323.50 L1102.05,323.50 L1102.30,323.49 L1102.55,323.49 L1102.80,323.48 L1103.05,323.47 L1103.30,323.47 L1103.55,323.46 L1103.80,323.45 L1104.05,323.43 L1104.30,323.42 L1104.55,323.41 L1104.80,323.39 L1105.05,323.38 L1105.30,323.36 L1105.55,323.34 L1105.80,323.32 L1106.05,323.30 L1106.30,323.28 L1106.55,323.26 L1106.80,323.24 L1107.05,323.21 L1107.30,323.19 L1107.55,323.17 L1107.80,323.14 L1108.05,323.11 L1108.30,323.09 L1108.55,323.06 L1108.80,323.03 L1109.05,323.00 L1109.30,322.97 L1109.55,322.94 L1109.80,322.91 L1110.05,322.87 L1110.30,322.84 L1110.55,322.81 L1110.80,322.77 L1111.05,322.74 L1111.30,322.70 L1111.55,322.67 L1111.80,322.63 L1112.05,322.59 L1112.30,322.56 L1112.55,322.52 L1112.80,322.48 L1113.05,322.44 L1113.30,322.40 L1113.55,322.36 L1113.80,322.32 L1114.05,322.28 L1114.30,322.24 L1114.55,322.20 L1114.80,322.16 L1115.05,322.12 L1115.30,322.07 L1115.55,322.03 L1115.80,321.99 L1116.05,321.95 L1116.30,321.90 L1116.55,321.86 L1116.80,321.82 L1117.05,321.77 L1117.30,321.73 L1117.55,321.68 L1117.80,321.64 L1118.05,321.60 L1118.30,321.55 L1118.55,321.51 L1118.80,321.46 L1119.05,321.42 L1119.30,321.37 L1119.55,321.33 L1119.80,321.29 L1120.05,321.24 L1120.30,321.20 L1120.55,321.15 L1120.80,321.11 L1121.05,321.07 L1121.30,321.02 L1121.55,320.98 L1121.80,320.93 L1122.05,320.89 L1122.30,320.85 L1122.55,320.80 L1122.80,320.76 L1123.05,320.72 L1123.30,320.68 L1123.55,320.64 L1123.80,320.59 L1124.05,320.55 L1124.30,320.51 L1124.55,320.47 L1124.80,320.43 L1125.05,320.39 L1125.30,320.35 L1125.55,320.31 L1125.80,320.28 L1126.05,320.24 L1126.30,320.20 L1126.55,320.16 L1126.80,320.13 L1127.05,320.09 L1127.30,320.06 L1127.55,320.02 L1127.70,320.00 L1127.80,319.99 L1128.05,319.95 L1128.30,319.92 L1128.55,319.88 L1128.80,319.85 L1129.05,319.82 L1129.30,319.78 L1129.55,319.75 L1129.80,319.71 L1130.05,319.68 L1130.30,319.64 L1130.55,319.61 L1130.80,319.58 L1131.05,319.54 L1131.30,319.51 L1131.55,319.47 L1131.80,319.44 L1132.05,319.40 L1132.30,319.37 L1132.55,319.33 L1132.80,319.30 L1133.05,319.27 L1133.30,319.23 L1133.55,319.20 L1133.80,319.16 L1134.05,319.13 L1134.30,319.09 L1134.55,319.06 L1134.80,319.02 L1135.05,318.99 L1135.30,318.95 L1135.55,318.92 L1135.80,318.88 L1136.05,318.85 L1136.30,318.81 L1136.55,318.78 L1136.80,318.75 L1137.05,318.71 L1137.30,318.68 L1137.55,318.64 L1137.80,318.61 L1138.05,318.57 L1138.30,318.54 L1138.55,318.50 L1138.80,318.47 L1139.05,318.43 L1139.30,318.40 L1139.55,318.36 L1139.80,318.33 L1140.05,318.29 L1140.30,318.26 L1140.55,318.22 L1140.80,318.19 L1141.05,318.15 L1141.30,318.12 L1141.55,318.08 L1141.80,318.05 L1142.05,318.01 L1142.30,317.98 L1142.55,317.94 L1142.80,317.91 L1143.05,317.87 L1143.30,317.84 L1143.55,317.80 L1143.80,317.77 L1144.05,317.73 L1144.30,317.69 L1144.55,317.66 L1144.80,317.62 L1145.05,317.59 L1145.30,317.55 L1145.55,317.52 L1145.80,317.48 L1146.05,317.45 L1146.30,317.41 L1146.55,317.38 L1146.80,317.34 L1147.05,317.31 L1147.30,317.27 L1147.55,317.24 L1147.80,317.20 L1148.05,317.16 L1148.30,317.13 L1148.55,317.09 L1148.80,317.06 L1149.05,317.02 L1149.30,316.99 L1149.55,316.95 L1149.80,316.92 L1150.05,316.88 L1150.30,316.84 L1150.55,316.81 L1150.80,316.77 L1151.05,316.74 L1151.30,316.70 L1151.55,316.67 L1151.80,316.63 L1152.05,316.59 L1152.30,316.56 L1152.55,316.52 L1152.80,316.49 L1153.05,316.45 L1153.30,316.42 L1153.55,316.38 L1153.80,316.34 L1154.05,316.31 L1154.30,316.27 L1154.55,316.24 L1154.80,316.20 L1155.05,316.17 L1155.30,316.13 L1155.55,316.09 L1155.80,316.06 L1156.05,316.02 L1156.30,315.99 L1156.55,315.95 L1156.80,315.91 L1156.90,315.90 L1157.05,315.88 L1157.30,315.84 L1157.55,315.81 L1157.80,315.77 L1158.05,315.73 L1158.30,315.70 L1158.55,315.66 L1158.80,315.62 L1159.05,315.59 L1159.30,315.55 L1159.55,315.51 L1159.80,315.48 L1160.05,315.44 L1160.30,315.40 L1160.55,315.37 L1160.80,315.33 L1161.05,315.29 L1161.30,315.26 L1161.55,315.22 L1161.80,315.18 L1162.05,315.14 L1162.30,315.11 L1162.55,315.07 L1162.80,315.03 L1163.05,314.99 L1163.30,314.96 L1163.55,314.92 L1163.80,314.88 L1164.05,314.84 L1164.30,314.81 L1164.55,314.77 L1164.80,314.73 L1165.05,314.69 L1165.30,314.66 L1165.55,314.62 L1165.80,314.58 L1166.05,314.54 L1166.30,314.50 L1166.55,314.47 L1166.80,314.43 L1167.05,314.39 L1167.30,314.35 L1167.55,314.32 L1167.80,314.28 L1168.05,314.24 L1168.30,314.20 L1168.55,314.16 L1168.80,314.13 L1169.05,314.09 L1169.30,314.05 L1169.55,314.01 L1169.80,313.97 L1170.05,313.94 L1170.30,313.90 L1170.55,313.86 L1170.80,313.82 L1171.05,313.78 L1171.30,313.75 L1171.55,313.71 L1171.80,313.67 L1172.05,313.63 L1172.30,313.59 L1172.55,313.56 L1172.80,313.52 L1173.05,313.48 L1173.30,313.44 L1173.55,313.41 L1173.80,313.37 L1174.05,313.33 L1174.30,313.29 L1174.55,313.26 L1174.80,313.22 L1175.05,313.18 L1175.30,313.14 L1175.55,313.11 L1175.80,313.07 L1176.05,313.03 L1176.30,313.00 L1176.55,312.96 L1176.80,312.92 L1177.05,312.88 L1177.30,312.85 L1177.55,312.81 L1177.80,312.77 L1178.05,312.74 L1178.30,312.70 L1178.55,312.66 L1178.80,312.63 L1179.05,312.59 L1179.30,312.55 L1179.55,312.52 L1179.80,312.48 L1180.05,312.45 L1180.30,312.41 L1180.55,312.37 L1180.80,312.34 L1181.05,312.30 L1181.30,312.27 L1181.55,312.23 L1181.80,312.19 L1182.05,312.16 L1182.30,312.12 L1182.55,312.09 L1182.80,312.05 L1183.05,312.02 L1183.30,311.98 L1183.55,311.95 L1183.80,311.91 L1184.05,311.88 L1184.30,311.85 L1184.55,311.81 L1184.80,311.78 L1185.05,311.74 L1185.30,311.71 L1185.55,311.67 L1185.80,311.64 L1186.05,311.61 L1186.10,311.60 L1186.30,311.57 L1186.55,311.54 L1186.80,311.51 L1187.05,311.47 L1187.30,311.44 L1187.55,311.41 L1187.80,311.37 L1188.05,311.34 L1188.30,311.31 L1188.55,311.27 L1188.80,311.24 L1189.05,311.21 L1189.30,311.17 L1189.55,311.14 L1189.80,311.11 L1190.05,311.08 L1190.30,311.04 L1190.55,311.01 L1190.80,310.98 L1191.05,310.95 L1191.30,310.91 L1191.55,310.88 L1191.80,310.85 L1192.05,310.82 L1192.30,310.78 L1192.55,310.75 L1192.80,310.72 L1193.05,310.69 L1193.30,310.66 L1193.55,310.62 L1193.80,310.59 L1194.05,310.56 L1194.30,310.53 L1194.55,310.50 L1194.80,310.46 L1195.05,310.43 L1195.30,310.40 L1195.55,310.37 L1195.80,310.34 L1196.05,310.31 L1196.30,310.28 L1196.55,310.24 L1196.80,310.21 L1197.05,310.18 L1197.30,310.15 L1197.55,310.12 L1197.80,310.09 L1198.05,310.06 L1198.30,310.03 L1198.55,310.00 L1198.80,309.96 L1199.05,309.93 L1199.30,309.90 L1199.55,309.87 L1199.80,309.84 L1200.05,309.81 L1200.30,309.78 L1200.55,309.75 L1200.80,309.72 L1201.05,309.69 L1201.30,309.66 L1201.55,309.63 L1201.80,309.60 L1202.05,309.57 L1202.30,309.54 L1202.55,309.51 L1202.80,309.48 L1203.05,309.45 L1203.30,309.42 L1203.55,309.39 L1203.80,309.36 L1204.05,309.33 L1204.30,309.30 L1204.55,309.27 L1204.80,309.24 L1205.05,309.21 L1205.30,309.18 L1205.55,309.15 L1205.80,309.12 L1206.05,309.09 L1206.30,309.07 L1206.55,309.04 L1206.80,309.01 L1207.05,308.98 L1207.30,308.95 L1207.55,308.92 L1207.80,308.89 L1208.05,308.86 L1208.30,308.83 L1208.55,308.81 L1208.60,308.80" fill="none" stroke="#151515" stroke-width="1.35" stroke-linejoin="round"/>
<rect x="745.0" y="26.6" width="463.9" height="373.6" fill="none" stroke="#0a0a0a" stroke-width="2.2"/>
<defs><linearGradient id="baseb" gradientUnits="userSpaceOnUse" x1="1039.0" y1="118.7" x2="1209.9" y2="41.0"><stop offset="0" stop-color="#2a16ff"/><stop offset="0.2" stop-color="#2414ff"/><stop offset="0.33" stop-color="#1e12ff"/><stop offset="0.45" stop-color="#1410ff"/><stop offset="0.62" stop-color="#1010f8"/><stop offset="0.68" stop-color="#0c0ce0"/><stop offset="0.763" stop-color="#040478"/><stop offset="0.84" stop-color="#00004a"/><stop offset="0.94" stop-color="#000028"/><stop offset="1" stop-color="#000020"/></linearGradient><radialGradient id="magb" gradientUnits="userSpaceOnUse" cx="0" cy="0" r="1" gradientTransform="translate(1037.0,95.5) scale(44,56)"><stop offset="0" stop-color="#c626e6" stop-opacity="1"/><stop offset="0.35" stop-color="#b420ea" stop-opacity="1"/><stop offset="0.6" stop-color="#a41cf2" stop-opacity="0.85"/><stop offset="0.8" stop-color="#7a1cf8" stop-opacity="0.5"/><stop offset="1" stop-color="#4a20ff" stop-opacity="0"/></radialGradient><radialGradient id="viob" gradientUnits="userSpaceOnUse" cx="1039.0" cy="33.5" r="78"><stop offset="0" stop-color="#6632ff" stop-opacity="0.6"/><stop offset="0.5" stop-color="#5028ff" stop-opacity="0.32"/><stop offset="1" stop-color="#3018ff" stop-opacity="0"/></radialGradient><radialGradient id="blkb" gradientUnits="userSpaceOnUse" cx="1315.3" cy="344.2" r="364"><stop offset="0.000" stop-color="#000" stop-opacity="1"/><stop offset="0.808" stop-color="#000" stop-opacity="1"/><stop offset="0.835" stop-color="#000" stop-opacity="0.93"/><stop offset="0.860" stop-color="#000" stop-opacity="0.83"/><stop offset="0.885" stop-color="#000" stop-opacity="0.68"/><stop offset="0.909" stop-color="#000" stop-opacity="0.46"/><stop offset="0.934" stop-color="#000" stop-opacity="0.24"/><stop offset="0.959" stop-color="#000" stop-opacity="0.09"/><stop offset="0.984" stop-color="#000" stop-opacity="0"/></radialGradient><linearGradient id="wdb" gradientUnits="userSpaceOnUse" x1="1039.0" y1="0" x2="1209.9" y2="0"><stop offset="0" stop-color="#fff" stop-opacity="0.5"/><stop offset="0.45" stop-color="#fff" stop-opacity="0.5"/><stop offset="0.6" stop-color="#fff" stop-opacity="0.3"/><stop offset="1" stop-color="#ffd0f0" stop-opacity="0.18"/></linearGradient></defs><clipPath id="clipb"><rect x="1039.0" y="25.5" width="170.9" height="155.4"/></clipPath>
<g clip-path="url(#clipb)">
<rect x="1039.0" y="25.5" width="170.9" height="155.4" fill="url(#baseb)"/>
<rect x="1039.0" y="25.5" width="170.9" height="155.4" fill="url(#viob)"/>
<rect x="1039.0" y="25.5" width="170.9" height="155.4" fill="url(#magb)"/>
<rect x="1039.0" y="25.5" width="170.9" height="155.4" fill="url(#blkb)"/>
<path d="M1049.3,130.9 C1049.3,129.0 1049.0,122.8 1049.5,119.3 C1050.0,115.8 1051.6,113.0 1052.4,110.0 C1053.2,107.0 1052.7,105.8 1054.3,101.1 C1055.9,96.4 1059.1,87.9 1062.0,81.8 C1064.9,75.7 1068.2,69.6 1071.7,64.4 C1075.2,59.3 1079.1,55.1 1083.3,50.9 C1087.5,46.7 1092.0,42.5 1096.8,39.3 C1101.6,36.1 1107.5,33.4 1112.2,31.6 C1116.9,29.8 1120.3,28.7 1125.0,28.4 C1129.7,28.1 1135.6,28.7 1140.4,29.7 C1145.2,30.7 1149.5,32.1 1154.0,34.5 C1158.5,36.9 1163.3,40.4 1167.5,44.1 C1171.7,47.8 1175.8,53.0 1179.0,56.7 C1182.2,60.4 1185.5,64.7 1186.8,66.3" fill="none" stroke="url(#arcgb)" stroke-width="3.2" opacity="0.4"/>
<path d="M1059.7,134.8 C1059.9,132.2 1060.0,124.3 1061.0,119.3 C1062.0,114.3 1064.2,109.0 1065.7,105.0 C1067.2,101.0 1067.8,99.5 1069.8,95.3 C1071.8,91.1 1074.6,84.6 1077.5,79.9 C1080.4,75.2 1083.6,71.0 1087.1,67.3 C1090.6,63.6 1094.5,60.4 1098.7,57.7 C1102.9,55.0 1107.8,52.5 1112.2,50.9 C1116.6,49.3 1120.3,48.5 1125.0,48.3 C1129.7,48.0 1135.6,48.5 1140.4,49.4 C1145.2,50.3 1149.5,51.4 1154.0,53.8 C1158.5,56.1 1163.7,60.1 1167.5,63.5 C1171.3,66.9 1175.5,72.2 1177.1,74.0" fill="none" stroke="url(#arcg2b)" stroke-width="2.8" opacity="0.22"/>
<path d="M1049.3,130.9 C1049.3,129.0 1049.0,122.8 1049.5,119.3 C1050.0,115.8 1051.6,113.0 1052.4,110.0 C1053.2,107.0 1052.7,105.8 1054.3,101.1 C1055.9,96.4 1059.1,87.9 1062.0,81.8 C1064.9,75.7 1068.2,69.6 1071.7,64.4 C1075.2,59.3 1079.1,55.1 1083.3,50.9 C1087.5,46.7 1092.0,42.5 1096.8,39.3 C1101.6,36.1 1107.5,33.4 1112.2,31.6 C1116.9,29.8 1120.3,28.7 1125.0,28.4 C1129.7,28.1 1135.6,28.7 1140.4,29.7 C1145.2,30.7 1149.5,32.1 1154.0,34.5 C1158.5,36.9 1163.3,40.4 1167.5,44.1 C1171.7,47.8 1175.8,53.0 1179.0,56.7 C1182.2,60.4 1185.5,64.7 1186.8,66.3" fill="none" stroke="url(#arcgb)" stroke-width="1.1" opacity="0.75"/>
<path d="M1059.7,134.8 C1059.9,132.2 1060.0,124.3 1061.0,119.3 C1062.0,114.3 1064.2,109.0 1065.7,105.0 C1067.2,101.0 1067.8,99.5 1069.8,95.3 C1071.8,91.1 1074.6,84.6 1077.5,79.9 C1080.4,75.2 1083.6,71.0 1087.1,67.3 C1090.6,63.6 1094.5,60.4 1098.7,57.7 C1102.9,55.0 1107.8,52.5 1112.2,50.9 C1116.6,49.3 1120.3,48.5 1125.0,48.3 C1129.7,48.0 1135.6,48.5 1140.4,49.4 C1145.2,50.3 1149.5,51.4 1154.0,53.8 C1158.5,56.1 1163.7,60.1 1167.5,63.5 C1171.3,66.9 1175.5,72.2 1177.1,74.0" fill="none" stroke="url(#arcg2b)" stroke-width="1.1" opacity="0.9"/>
<path d="M1049.3,130.9 C1049.3,129.0 1049.0,122.8 1049.5,119.3 C1050.0,115.8 1051.6,113.0 1052.4,110.0 C1053.2,107.0 1052.7,105.8 1054.3,101.1 C1055.9,96.4 1059.1,87.9 1062.0,81.8 C1064.9,75.7 1068.2,69.6 1071.7,64.4 C1075.2,59.3 1079.1,55.1 1083.3,50.9 C1087.5,46.7 1092.0,42.5 1096.8,39.3 C1101.6,36.1 1107.5,33.4 1112.2,31.6 C1116.9,29.8 1120.3,28.7 1125.0,28.4 C1129.7,28.1 1135.6,28.7 1140.4,29.7 C1145.2,30.7 1149.5,32.1 1154.0,34.5 C1158.5,36.9 1163.3,40.4 1167.5,44.1 C1171.7,47.8 1175.8,53.0 1179.0,56.7 C1182.2,60.4 1185.5,64.7 1186.8,66.3" fill="none" stroke="url(#wdb)" stroke-width="1" stroke-dasharray="2.5 9 1.5 13 3 17"/>
<path d="M1059.7,134.8 C1059.9,132.2 1060.0,124.3 1061.0,119.3 C1062.0,114.3 1064.2,109.0 1065.7,105.0 C1067.2,101.0 1067.8,99.5 1069.8,95.3 C1071.8,91.1 1074.6,84.6 1077.5,79.9 C1080.4,75.2 1083.6,71.0 1087.1,67.3 C1090.6,63.6 1094.5,60.4 1098.7,57.7 C1102.9,55.0 1107.8,52.5 1112.2,50.9 C1116.6,49.3 1120.3,48.5 1125.0,48.3 C1129.7,48.0 1135.6,48.5 1140.4,49.4 C1145.2,50.3 1149.5,51.4 1154.0,53.8 C1158.5,56.1 1163.7,60.1 1167.5,63.5 C1171.3,66.9 1175.5,72.2 1177.1,74.0" fill="none" stroke="url(#wdb)" stroke-width="1" stroke-dasharray="4 6 2 8 5 11"/>
<path d="M1171.4,25.3 L1128.0,126.8 L1129.0,127.2 L1174.6,26.7Z" fill="#00002c" fill-opacity="0.4"/>
<circle cx="1128.5" cy="127" r="1.8" fill="#2222b0" opacity="0.4"/>
<text x="1208.9" y="30.5" text-anchor="end" font-size="4.5" font-family="Liberation Sans, sans-serif" fill="#7d8090">[4768,2914]</text>
</g>
<text x="745.0" y="428.4" text-anchor="middle" font-size="24.5" font-family="Liberation Serif, serif" font-weight="bold">20</text>
<line x1="803.0" y1="400.2" x2="803.0" y2="396.2" stroke="#0a0a0a" stroke-width="1.6"/>
<line x1="861.0" y1="400.2" x2="861.0" y2="392.7" stroke="#0a0a0a" stroke-width="1.6"/>
<text x="861.0" y="428.4" text-anchor="middle" font-size="24.5" font-family="Liberation Serif, serif" font-weight="bold">30</text>
<line x1="919.0" y1="400.2" x2="919.0" y2="396.2" stroke="#0a0a0a" stroke-width="1.6"/>
<line x1="977.0" y1="400.2" x2="977.0" y2="392.7" stroke="#0a0a0a" stroke-width="1.6"/>
<text x="977.0" y="428.4" text-anchor="middle" font-size="24.5" font-family="Liberation Serif, serif" font-weight="bold">40</text>
<line x1="1034.9" y1="400.2" x2="1034.9" y2="396.2" stroke="#0a0a0a" stroke-width="1.6"/>
<line x1="1092.9" y1="400.2" x2="1092.9" y2="392.7" stroke="#0a0a0a" stroke-width="1.6"/>
<text x="1092.9" y="428.4" text-anchor="middle" font-size="24.5" font-family="Liberation Serif, serif" font-weight="bold">50</text>
<line x1="1150.9" y1="400.2" x2="1150.9" y2="396.2" stroke="#0a0a0a" stroke-width="1.6"/>
<text x="1208.9" y="428.4" text-anchor="middle" font-size="24.5" font-family="Liberation Serif, serif" font-weight="bold">60</text>
<text x="736.0" y="408.8" text-anchor="end" font-size="24.5" font-family="Liberation Serif, serif" font-weight="bold">0</text>
<line x1="745.0" y1="362.8" x2="749.0" y2="362.8" stroke="#0a0a0a" stroke-width="1.6"/>
<line x1="745.0" y1="325.5" x2="752.5" y2="325.5" stroke="#0a0a0a" stroke-width="1.6"/>
<text x="736.0" y="334.1" text-anchor="end" font-size="24.5" font-family="Liberation Serif, serif" font-weight="bold">1500</text>
<line x1="745.0" y1="288.1" x2="749.0" y2="288.1" stroke="#0a0a0a" stroke-width="1.6"/>
<line x1="745.0" y1="250.8" x2="752.5" y2="250.8" stroke="#0a0a0a" stroke-width="1.6"/>
<text x="736.0" y="259.4" text-anchor="end" font-size="24.5" font-family="Liberation Serif, serif" font-weight="bold">3000</text>
<line x1="745.0" y1="213.4" x2="749.0" y2="213.4" stroke="#0a0a0a" stroke-width="1.6"/>
<line x1="745.0" y1="176.0" x2="752.5" y2="176.0" stroke="#0a0a0a" stroke-width="1.6"/>
<text x="736.0" y="184.6" text-anchor="end" font-size="24.5" font-family="Liberation Serif, serif" font-weight="bold">4500</text>
<line x1="745.0" y1="138.7" x2="749.0" y2="138.7" stroke="#0a0a0a" stroke-width="1.6"/>
<line x1="745.0" y1="101.3" x2="752.5" y2="101.3" stroke="#0a0a0a" stroke-width="1.6"/>
<text x="736.0" y="109.9" text-anchor="end" font-size="24.5" font-family="Liberation Serif, serif" font-weight="bold">6000</text>
<line x1="745.0" y1="64.0" x2="749.0" y2="64.0" stroke="#0a0a0a" stroke-width="1.6"/>
<text x="736.0" y="35.2" text-anchor="end" font-size="24.5" font-family="Liberation Serif, serif" font-weight="bold">7500</text>
<text x="967.5" y="456.5" text-anchor="middle" font-size="24.5" font-family="Liberation Serif, serif" font-weight="bold">2-Theta (degree)</text>
<text transform="translate(677.1,212.6) rotate(-90)" text-anchor="middle" font-size="24.5" font-family="Liberation Serif, serif" font-weight="bold">Intensity</text>
<text x="627.0" y="38.3" font-size="32.5" letter-spacing="1.1" font-family="Liberation Sans, sans-serif" fill="#111">(b)</text>
<path d="M768.8,65.9 L782.8,65.9 L775.8,54.4Z" fill="#000"/>
<rect x="770.5" y="83.7" width="10.5" height="10.5" fill="#000"/>
<circle cx="775.2" cy="113.7" r="5.8" fill="#000"/>
<path d="M768.3,146.2 L775.8,138.7 L783.3,146.2 L775.8,153.7Z" fill="#000"/>
<text x="796.8" y="67.2" font-size="22" font-family="Liberation Serif, serif" font-weight="bold">Al</text>
<text x="796.8" y="99.7" font-size="22" font-family="Liberation Serif, serif" font-weight="bold">Fe</text>
<text x="796.3" y="127.1" font-size="22" font-family="Liberation Serif, serif" font-weight="bold">Fe<tspan dy="6" font-size="16">2</tspan><tspan dy="-6">Al</tspan><tspan dy="6" font-size="16">5</tspan></text>
<text x="795.3" y="154.9" font-size="22" font-family="Liberation Serif, serif" font-weight="bold">Fe<tspan dy="6" font-size="16">4</tspan><tspan dy="-6">Al</tspan><tspan dy="6" font-size="16">13</tspan></text>
<path d="M998.3,326.0 L986.3,202.4 L1068.8,81.8" fill="none" stroke="#000" stroke-width="2.35" stroke-linejoin="miter"/><path d="M1076.5,70.6 L1071.6,87.9 L1062.2,81.4Z" fill="#000"/>
<path d="M1019.2,311.5 L1047.8,132.7" fill="none" stroke="#000" stroke-width="2.35" stroke-linejoin="miter"/><path d="M1050.0,119.3 L1053.0,137.0 L1041.6,135.2Z" fill="#000"/>
<path d="M951.5,101.0 L965.5,101.0 L958.5,89.5Z" fill="#000"/>
<path d="M1022.0,69.6 L1036.0,69.6 L1029.0,57.0Z" fill="#000"/>
<rect x="1024.3" y="76.5" width="10.5" height="10.5" fill="#000"/>
<circle cx="998.3" cy="327.7" r="5.8" fill="#000"/>
<path d="M1008.3,321.5 L1015.5,314.3 L1022.7,321.5 L1015.5,328.7Z" fill="#000"/>
</svg></body></html>
